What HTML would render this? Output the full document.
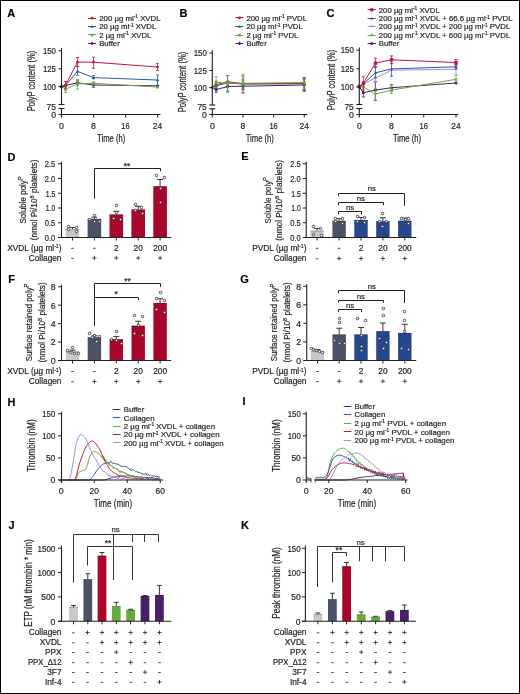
<!DOCTYPE html>
<html><head><meta charset="utf-8"><style>html,body{margin:0;padding:0;background:#fff;}svg{display:block;will-change:transform;}text{font-family:"Liberation Sans",sans-serif;stroke:#231f20;stroke-width:0.2px;}</style></head><body>
<svg width="520" height="694" viewBox="0 0 520 694">
<rect x="0" y="0" width="520" height="694" fill="#fff"/>
<text x="7.3" y="16.9" font-size="11" font-weight="bold" fill="#000">A</text>
<path d="M77.5,80.8V85M75.9,80.8H79.1M75.9,85H79.1" stroke="#4b1d6b" stroke-width="0.8" fill="none"/>
<path d="M93.5,82.6V87.2M91.9,82.6H95.1M91.9,87.2H95.1" stroke="#4b1d6b" stroke-width="0.8" fill="none"/>
<polyline points="61.5,86.6 65.5,85.5 77.5,82.8 93.5,85 157.5,85.8" fill="none" stroke="#4b1d6b" stroke-width="1.0" stroke-linejoin="round"/>
<path d="M61.5,84.6L63.5,86.6L61.5,88.6L59.5,86.6Z" fill="#4b1d6b"/>
<path d="M65.5,83.5L67.5,85.5L65.5,87.5L63.5,85.5Z" fill="#4b1d6b"/>
<path d="M77.5,80.8L79.5,82.8L77.5,84.8L75.5,82.8Z" fill="#4b1d6b"/>
<path d="M93.5,83L95.5,85L93.5,87L91.5,85Z" fill="#4b1d6b"/>
<path d="M157.5,83.8L159.5,85.8L157.5,87.8L155.5,85.8Z" fill="#4b1d6b"/>
<path d="M65.5,86.5V92.4M63.9,86.5H67.1M63.9,92.4H67.1" stroke="#64ad3d" stroke-width="0.8" fill="none"/>
<path d="M77.5,79.5V89.2M75.9,79.5H79.1M75.9,89.2H79.1" stroke="#64ad3d" stroke-width="0.8" fill="none"/>
<path d="M93.5,82V85M91.9,82H95.1M91.9,85H95.1" stroke="#64ad3d" stroke-width="0.8" fill="none"/>
<polyline points="61.5,86.6 65.5,89.2 77.5,83.9 93.5,83.3 157.5,87" fill="none" stroke="#64ad3d" stroke-width="1.0" stroke-linejoin="round"/>
<rect x="60.06" y="85.16" width="2.88" height="2.88" fill="#64ad3d"/>
<rect x="64.06" y="87.76" width="2.88" height="2.88" fill="#64ad3d"/>
<rect x="76.06" y="82.46" width="2.88" height="2.88" fill="#64ad3d"/>
<rect x="92.06" y="81.86" width="2.88" height="2.88" fill="#64ad3d"/>
<rect x="156.06" y="85.56" width="2.88" height="2.88" fill="#64ad3d"/>
<path d="M77.5,66.5V75.4M75.9,66.5H79.1M75.9,75.4H79.1" stroke="#2d5a9c" stroke-width="0.8" fill="none"/>
<path d="M93.5,75.6V78.8M91.9,75.6H95.1M91.9,78.8H95.1" stroke="#2d5a9c" stroke-width="0.8" fill="none"/>
<path d="M157.5,75V85.6M155.9,75H159.1M155.9,85.6H159.1" stroke="#2d5a9c" stroke-width="0.8" fill="none"/>
<polyline points="61.5,86.6 65.5,85.6 77.5,71.3 93.5,77.6 157.5,80" fill="none" stroke="#2d5a9c" stroke-width="1.0" stroke-linejoin="round"/>
<path d="M61.5,84.89L63.21,87.97L59.79,87.97Z" fill="#2d5a9c"/>
<path d="M65.5,83.89L67.21,86.97L63.79,86.97Z" fill="#2d5a9c"/>
<path d="M77.5,69.59L79.21,72.67L75.79,72.67Z" fill="#2d5a9c"/>
<path d="M93.5,75.89L95.21,78.97L91.79,78.97Z" fill="#2d5a9c"/>
<path d="M157.5,78.29L159.21,81.37L155.79,81.37Z" fill="#2d5a9c"/>
<path d="M65.5,81.5V88M63.9,81.5H67.1M63.9,88H67.1" stroke="#c0163c" stroke-width="0.8" fill="none"/>
<path d="M77.5,57.5V66.5M75.9,57.5H79.1M75.9,66.5H79.1" stroke="#c0163c" stroke-width="0.8" fill="none"/>
<path d="M93.5,57.2V68.3M91.9,57.2H95.1M91.9,68.3H95.1" stroke="#c0163c" stroke-width="0.8" fill="none"/>
<path d="M157.5,63.6V70.4M155.9,63.6H159.1M155.9,70.4H159.1" stroke="#c0163c" stroke-width="0.8" fill="none"/>
<polyline points="61.5,86.6 65.5,85.1 77.5,62.1 93.5,62.2 157.5,67" fill="none" stroke="#c0163c" stroke-width="1.0" stroke-linejoin="round"/>
<circle cx="61.5" cy="86.6" r="1.35" fill="#c0163c"/>
<circle cx="65.5" cy="85.1" r="1.35" fill="#c0163c"/>
<circle cx="77.5" cy="62.1" r="1.35" fill="#c0163c"/>
<circle cx="93.5" cy="62.2" r="1.35" fill="#c0163c"/>
<circle cx="157.5" cy="67" r="1.35" fill="#c0163c"/>
<line x1="61.5" y1="47.9" x2="61.5" y2="104.5" stroke="#231f20" stroke-width="1.1"/>
<line x1="61.5" y1="108.5" x2="61.5" y2="117.5" stroke="#231f20" stroke-width="1.1"/>
<line x1="58.5" y1="50.7" x2="61.5" y2="50.7" stroke="#231f20" stroke-width="1.0"/>
<line x1="58.5" y1="68.8" x2="61.5" y2="68.8" stroke="#231f20" stroke-width="1.0"/>
<line x1="58.5" y1="86.6" x2="61.5" y2="86.6" stroke="#231f20" stroke-width="1.0"/>
<line x1="58.5" y1="104.5" x2="64.5" y2="104.5" stroke="#231f20" stroke-width="1.1"/>
<line x1="58.5" y1="108.5" x2="64.5" y2="108.5" stroke="#231f20" stroke-width="1.1"/>
<line x1="58.5" y1="114.5" x2="160.5" y2="114.5" stroke="#231f20" stroke-width="1.1"/>
<line x1="93.5" y1="114.5" x2="93.5" y2="117.5" stroke="#231f20" stroke-width="1.0"/>
<line x1="125.5" y1="114.5" x2="125.5" y2="117.5" stroke="#231f20" stroke-width="1.0"/>
<line x1="157.5" y1="114.5" x2="157.5" y2="117.5" stroke="#231f20" stroke-width="1.0"/>
<text x="56" y="53.8" font-size="8.7" text-anchor="end" textLength="13.08" lengthAdjust="spacingAndGlyphs" fill="#231f20">150</text>
<text x="56" y="71.9" font-size="8.7" text-anchor="end" textLength="13.08" lengthAdjust="spacingAndGlyphs" fill="#231f20">125</text>
<text x="56" y="89.7" font-size="8.7" text-anchor="end" textLength="13.08" lengthAdjust="spacingAndGlyphs" fill="#231f20">100</text>
<text x="56" y="109.8" font-size="8.7" text-anchor="end" textLength="9.39" lengthAdjust="spacingAndGlyphs" fill="#231f20">75</text>
<text x="56" y="117.6" font-size="8.7" text-anchor="end" fill="#231f20">0</text>
<text x="61.5" y="128.7" font-size="8.7" text-anchor="middle" fill="#231f20">0</text>
<text x="93.5" y="128.7" font-size="8.7" text-anchor="middle" fill="#231f20">8</text>
<text x="125.5" y="128.7" font-size="8.7" text-anchor="middle" textLength="8.39" lengthAdjust="spacingAndGlyphs" fill="#231f20">16</text>
<text x="157.5" y="128.7" font-size="8.7" text-anchor="middle" textLength="9.39" lengthAdjust="spacingAndGlyphs" fill="#231f20">24</text>
<text x="111.2" y="141.6" font-size="10" text-anchor="middle" textLength="28.2" lengthAdjust="spacingAndGlyphs" fill="#231f20">Time (h)</text>
<text transform="translate(35.2,81) rotate(-90)" font-size="10" text-anchor="middle" textLength="60.5" lengthAdjust="spacingAndGlyphs" fill="#231f20">PolyP content (%)</text>
<line x1="88.2" y1="18.5" x2="96" y2="18.5" stroke="#c0163c" stroke-width="1.0"/>
<circle cx="92.1" cy="18.2" r="1.35" fill="#c0163c"/>
<text x="99.2" y="21" font-size="7.8" textLength="61.4" lengthAdjust="spacingAndGlyphs" fill="#231f20">200 µg ml<tspan dy="-2.6" font-size="4.84">-1</tspan><tspan dy="2.6"> XVDL</tspan></text>
<line x1="88.2" y1="26.5" x2="96" y2="26.5" stroke="#2d5a9c" stroke-width="1.0"/>
<path d="M92.1,25.08L93.62,27.82L90.58,27.82Z" fill="#2d5a9c"/>
<text x="99.2" y="29.4" font-size="7.8" textLength="57.1" lengthAdjust="spacingAndGlyphs" fill="#231f20">20 µg ml<tspan dy="-2.6" font-size="4.84">-1</tspan><tspan dy="2.6"> XVDL</tspan></text>
<line x1="88.2" y1="34.5" x2="96" y2="34.5" stroke="#64ad3d" stroke-width="1.0"/>
<rect x="90.82" y="33.72" width="2.56" height="2.56" fill="#64ad3d"/>
<text x="99.2" y="37.8" font-size="7.8" textLength="52.2" lengthAdjust="spacingAndGlyphs" fill="#231f20">2 µg ml<tspan dy="-2.6" font-size="4.84">-1</tspan><tspan dy="2.6"> XVDL</tspan></text>
<line x1="88.2" y1="43.5" x2="96" y2="43.5" stroke="#4b1d6b" stroke-width="1.0"/>
<path d="M92.1,41.6L93.9,43.4L92.1,45.2L90.3,43.4Z" fill="#4b1d6b"/>
<text x="99.2" y="46.2" font-size="7.8" textLength="20.6" lengthAdjust="spacingAndGlyphs" fill="#231f20">Buffer</text>
<text x="179.6" y="17" font-size="11" font-weight="bold" fill="#000">B</text>
<path d="M216.13,86.5V92.2M214.53,86.5H217.73M214.53,92.2H217.73" stroke="#4b1d6b" stroke-width="0.8" fill="none"/>
<path d="M227.62,82.5V91.4M226.02,82.5H229.22M226.02,91.4H229.22" stroke="#4b1d6b" stroke-width="0.8" fill="none"/>
<path d="M242.94,83V89.4M241.34,83H244.54M241.34,89.4H244.54" stroke="#4b1d6b" stroke-width="0.8" fill="none"/>
<path d="M304.22,79V91.3M302.62,79H305.82M302.62,91.3H305.82" stroke="#4b1d6b" stroke-width="0.8" fill="none"/>
<polyline points="212.3,87.6 216.13,89.5 227.62,86.6 242.94,86.2 304.22,85" fill="none" stroke="#4b1d6b" stroke-width="1.0" stroke-linejoin="round"/>
<path d="M212.3,85.6L214.3,87.6L212.3,89.6L210.3,87.6Z" fill="#4b1d6b"/>
<path d="M216.13,87.5L218.13,89.5L216.13,91.5L214.13,89.5Z" fill="#4b1d6b"/>
<path d="M227.62,84.6L229.62,86.6L227.62,88.6L225.62,86.6Z" fill="#4b1d6b"/>
<path d="M242.94,84.2L244.94,86.2L242.94,88.2L240.94,86.2Z" fill="#4b1d6b"/>
<path d="M304.22,83L306.22,85L304.22,87L302.22,85Z" fill="#4b1d6b"/>
<path d="M227.62,75.5V92M226.02,75.5H229.22M226.02,92H229.22" stroke="#2d5a9c" stroke-width="0.8" fill="none"/>
<path d="M242.94,79.9V88M241.34,79.9H244.54M241.34,88H244.54" stroke="#2d5a9c" stroke-width="0.8" fill="none"/>
<path d="M304.22,78V90M302.62,78H305.82M302.62,90H305.82" stroke="#2d5a9c" stroke-width="0.8" fill="none"/>
<polyline points="212.3,87.6 216.13,86 227.62,82.9 242.94,84.1 304.22,83.7" fill="none" stroke="#2d5a9c" stroke-width="1.0" stroke-linejoin="round"/>
<path d="M212.3,85.89L214.01,88.97L210.59,88.97Z" fill="#2d5a9c"/>
<path d="M216.13,84.29L217.84,87.37L214.42,87.37Z" fill="#2d5a9c"/>
<path d="M227.62,81.19L229.33,84.27L225.91,84.27Z" fill="#2d5a9c"/>
<path d="M242.94,82.39L244.65,85.47L241.23,85.47Z" fill="#2d5a9c"/>
<path d="M304.22,81.99L305.93,85.07L302.51,85.07Z" fill="#2d5a9c"/>
<path d="M242.94,76V93M241.34,76H244.54M241.34,93H244.54" stroke="#c0163c" stroke-width="0.8" fill="none"/>
<path d="M304.22,77.5V90M302.62,77.5H305.82M302.62,90H305.82" stroke="#c0163c" stroke-width="0.8" fill="none"/>
<polyline points="212.3,87.6 216.13,84.7 227.62,81.7 242.94,83.7 304.22,83.5" fill="none" stroke="#c0163c" stroke-width="1.0" stroke-linejoin="round"/>
<circle cx="212.3" cy="87.6" r="1.35" fill="#c0163c"/>
<circle cx="216.13" cy="84.7" r="1.35" fill="#c0163c"/>
<circle cx="227.62" cy="81.7" r="1.35" fill="#c0163c"/>
<circle cx="242.94" cy="83.7" r="1.35" fill="#c0163c"/>
<circle cx="304.22" cy="83.5" r="1.35" fill="#c0163c"/>
<path d="M216.13,76.6V87.5M214.53,76.6H217.73M214.53,87.5H217.73" stroke="#64ad3d" stroke-width="0.8" fill="none"/>
<path d="M227.62,76V91.4M226.02,76H229.22M226.02,91.4H229.22" stroke="#64ad3d" stroke-width="0.8" fill="none"/>
<path d="M242.94,74.4V93M241.34,74.4H244.54M241.34,93H244.54" stroke="#64ad3d" stroke-width="0.8" fill="none"/>
<path d="M304.22,78V88M302.62,78H305.82M302.62,88H305.82" stroke="#64ad3d" stroke-width="0.8" fill="none"/>
<polyline points="212.3,87.6 216.13,82.1 227.62,83.3 242.94,83.3 304.22,82.5" fill="none" stroke="#64ad3d" stroke-width="1.0" stroke-linejoin="round"/>
<rect x="210.86" y="86.16" width="2.88" height="2.88" fill="#64ad3d"/>
<rect x="214.69" y="80.66" width="2.88" height="2.88" fill="#64ad3d"/>
<rect x="226.18" y="81.86" width="2.88" height="2.88" fill="#64ad3d"/>
<rect x="241.5" y="81.86" width="2.88" height="2.88" fill="#64ad3d"/>
<rect x="302.78" y="81.06" width="2.88" height="2.88" fill="#64ad3d"/>
<line x1="212.3" y1="50.2" x2="212.3" y2="105" stroke="#231f20" stroke-width="1.1"/>
<line x1="212.3" y1="108.8" x2="212.3" y2="117.5" stroke="#231f20" stroke-width="1.1"/>
<line x1="209.3" y1="53" x2="212.3" y2="53" stroke="#231f20" stroke-width="1.0"/>
<line x1="209.3" y1="70.5" x2="212.3" y2="70.5" stroke="#231f20" stroke-width="1.0"/>
<line x1="209.3" y1="87.6" x2="212.3" y2="87.6" stroke="#231f20" stroke-width="1.0"/>
<line x1="209.3" y1="105" x2="215.3" y2="105" stroke="#231f20" stroke-width="1.1"/>
<line x1="209.3" y1="108.8" x2="215.3" y2="108.8" stroke="#231f20" stroke-width="1.1"/>
<line x1="209.3" y1="114.5" x2="307.5" y2="114.5" stroke="#231f20" stroke-width="1.1"/>
<line x1="242.94" y1="114.5" x2="242.94" y2="117.5" stroke="#231f20" stroke-width="1.0"/>
<line x1="273.58" y1="114.5" x2="273.58" y2="117.5" stroke="#231f20" stroke-width="1.0"/>
<line x1="304.22" y1="114.5" x2="304.22" y2="117.5" stroke="#231f20" stroke-width="1.0"/>
<text x="206.8" y="56.1" font-size="8.7" text-anchor="end" textLength="13.08" lengthAdjust="spacingAndGlyphs" fill="#231f20">150</text>
<text x="206.8" y="73.6" font-size="8.7" text-anchor="end" textLength="13.08" lengthAdjust="spacingAndGlyphs" fill="#231f20">125</text>
<text x="206.8" y="90.7" font-size="8.7" text-anchor="end" textLength="13.08" lengthAdjust="spacingAndGlyphs" fill="#231f20">100</text>
<text x="206.8" y="110.3" font-size="8.7" text-anchor="end" textLength="9.39" lengthAdjust="spacingAndGlyphs" fill="#231f20">75</text>
<text x="206.8" y="117.6" font-size="8.7" text-anchor="end" fill="#231f20">0</text>
<text x="212.3" y="128.7" font-size="8.7" text-anchor="middle" fill="#231f20">0</text>
<text x="242.94" y="128.7" font-size="8.7" text-anchor="middle" fill="#231f20">8</text>
<text x="273.58" y="128.7" font-size="8.7" text-anchor="middle" textLength="8.39" lengthAdjust="spacingAndGlyphs" fill="#231f20">16</text>
<text x="304.22" y="128.7" font-size="8.7" text-anchor="middle" textLength="9.39" lengthAdjust="spacingAndGlyphs" fill="#231f20">24</text>
<text x="259.8" y="141.6" font-size="10" text-anchor="middle" textLength="28.2" lengthAdjust="spacingAndGlyphs" fill="#231f20">Time (h)</text>
<text transform="translate(186.2,82) rotate(-90)" font-size="10" text-anchor="middle" textLength="60.5" lengthAdjust="spacingAndGlyphs" fill="#231f20">PolyP content (%)</text>
<line x1="235.5" y1="17.5" x2="243.5" y2="17.5" stroke="#c0163c" stroke-width="1.0"/>
<circle cx="239.5" cy="17.9" r="1.35" fill="#c0163c"/>
<text x="246.4" y="20.7" font-size="7.8" textLength="60.6" lengthAdjust="spacingAndGlyphs" fill="#231f20">200 µg ml<tspan dy="-2.6" font-size="4.84">-1</tspan><tspan dy="2.6"> PVDL</tspan></text>
<line x1="235.5" y1="26.5" x2="243.5" y2="26.5" stroke="#2d5a9c" stroke-width="1.0"/>
<path d="M239.5,25.08L241.02,27.82L237.98,27.82Z" fill="#2d5a9c"/>
<text x="246.4" y="29.4" font-size="7.8" textLength="56.3" lengthAdjust="spacingAndGlyphs" fill="#231f20">20 µg ml<tspan dy="-2.6" font-size="4.84">-1</tspan><tspan dy="2.6"> PVDL</tspan></text>
<line x1="235.5" y1="35.5" x2="243.5" y2="35.5" stroke="#64ad3d" stroke-width="1.0"/>
<rect x="238.22" y="33.92" width="2.56" height="2.56" fill="#64ad3d"/>
<text x="246.4" y="38" font-size="7.8" textLength="51.9" lengthAdjust="spacingAndGlyphs" fill="#231f20">2 µg ml<tspan dy="-2.6" font-size="4.84">-1</tspan><tspan dy="2.6"> PVDL</tspan></text>
<line x1="235.5" y1="43.5" x2="243.5" y2="43.5" stroke="#4b1d6b" stroke-width="1.0"/>
<path d="M239.5,41.6L241.3,43.4L239.5,45.2L237.7,43.4Z" fill="#4b1d6b"/>
<text x="246.4" y="46.2" font-size="7.8" textLength="20.3" lengthAdjust="spacingAndGlyphs" fill="#231f20">Buffer</text>
<text x="326.4" y="17.3" font-size="11" font-weight="bold" fill="#000">C</text>
<path d="M363.33,86V97M361.73,86H364.93M361.73,97H364.93" stroke="#4b1d6b" stroke-width="0.8" fill="none"/>
<path d="M375.42,81.4V100.5M373.82,81.4H377.02M373.82,100.5H377.02" stroke="#4b1d6b" stroke-width="0.8" fill="none"/>
<path d="M391.54,84.5V91M389.94,84.5H393.14M389.94,91H393.14" stroke="#4b1d6b" stroke-width="0.8" fill="none"/>
<polyline points="359.3,86.8 363.33,92.7 375.42,90.1 391.54,87.7 456.02,83" fill="none" stroke="#4b1d6b" stroke-width="1.0" stroke-linejoin="round"/>
<circle cx="359.3" cy="86.8" r="1.5" fill="#4b1d6b"/>
<circle cx="363.33" cy="92.7" r="1.5" fill="#4b1d6b"/>
<circle cx="375.42" cy="90.1" r="1.5" fill="#4b1d6b"/>
<circle cx="391.54" cy="87.7" r="1.5" fill="#4b1d6b"/>
<circle cx="456.02" cy="83" r="1.5" fill="#4b1d6b"/>
<path d="M375.42,88.3V100M373.82,88.3H377.02M373.82,100H377.02" stroke="#64ad3d" stroke-width="0.8" fill="none"/>
<path d="M391.54,84.9V93.4M389.94,84.9H393.14M389.94,93.4H393.14" stroke="#64ad3d" stroke-width="0.8" fill="none"/>
<path d="M456.02,75V81M454.42,75H457.62M454.42,81H457.62" stroke="#64ad3d" stroke-width="0.8" fill="none"/>
<polyline points="359.3,86.8 363.33,87 375.42,94 391.54,90.1 456.02,79.3" fill="none" stroke="#64ad3d" stroke-width="1.0" stroke-linejoin="round"/>
<path d="M357.94,86.8H360.66M359.3,85.44V88.16" stroke="#64ad3d" stroke-width="1.1"/>
<path d="M361.97,87H364.69M363.33,85.64V88.36" stroke="#64ad3d" stroke-width="1.1"/>
<path d="M374.06,94H376.78M375.42,92.64V95.36" stroke="#64ad3d" stroke-width="1.1"/>
<path d="M390.18,90.1H392.9M391.54,88.74V91.46" stroke="#64ad3d" stroke-width="1.1"/>
<path d="M454.66,79.3H457.38M456.02,77.94V80.66" stroke="#64ad3d" stroke-width="1.1"/>
<path d="M375.42,67.1V82.3M373.82,67.1H377.02M373.82,82.3H377.02" stroke="#9c92d8" stroke-width="0.8" fill="none"/>
<path d="M456.02,63.8V75M454.42,63.8H457.62M454.42,75H457.62" stroke="#9c92d8" stroke-width="0.8" fill="none"/>
<polyline points="359.3,86.8 363.33,84.2 375.42,78 391.54,70.2 456.02,69.3" fill="none" stroke="#9c92d8" stroke-width="1.0" stroke-linejoin="round"/>
<path d="M359.3,88.32L360.82,85.58L357.78,85.58Z" fill="#9c92d8"/>
<path d="M363.33,85.72L364.85,82.98L361.81,82.98Z" fill="#9c92d8"/>
<path d="M375.42,79.52L376.94,76.78L373.9,76.78Z" fill="#9c92d8"/>
<path d="M391.54,71.72L393.06,68.98L390.02,68.98Z" fill="#9c92d8"/>
<path d="M456.02,70.82L457.54,68.08L454.5,68.08Z" fill="#9c92d8"/>
<path d="M375.42,66.7V78M373.82,66.7H377.02M373.82,78H377.02" stroke="#2d5a9c" stroke-width="0.8" fill="none"/>
<path d="M391.54,63.2V76.2M389.94,63.2H393.14M389.94,76.2H393.14" stroke="#2d5a9c" stroke-width="0.8" fill="none"/>
<path d="M456.02,64.5V69M454.42,64.5H457.62M454.42,69H457.62" stroke="#2d5a9c" stroke-width="0.8" fill="none"/>
<polyline points="359.3,86.8 363.33,83.8 375.42,72.8 391.54,68.9 456.02,66.8" fill="none" stroke="#2d5a9c" stroke-width="1.0" stroke-linejoin="round"/>
<path d="M359.3,85.28L360.82,88.02L357.78,88.02Z" fill="#2d5a9c"/>
<path d="M363.33,82.28L364.85,85.02L361.81,85.02Z" fill="#2d5a9c"/>
<path d="M375.42,71.28L376.94,74.02L373.9,74.02Z" fill="#2d5a9c"/>
<path d="M391.54,67.38L393.06,70.12L390.02,70.12Z" fill="#2d5a9c"/>
<path d="M456.02,65.28L457.54,68.02L454.5,68.02Z" fill="#2d5a9c"/>
<path d="M363.33,76.7V90.1M361.73,76.7H364.93M361.73,90.1H364.93" stroke="#c0163c" stroke-width="0.8" fill="none"/>
<path d="M375.42,58.2V67.6M373.82,58.2H377.02M373.82,67.6H377.02" stroke="#c0163c" stroke-width="0.8" fill="none"/>
<path d="M391.54,55.9V63.7M389.94,55.9H393.14M389.94,63.7H393.14" stroke="#c0163c" stroke-width="0.8" fill="none"/>
<path d="M456.02,59.5V65M454.42,59.5H457.62M454.42,65H457.62" stroke="#c0163c" stroke-width="0.8" fill="none"/>
<polyline points="359.3,86.6 363.33,83.2 375.42,63.1 391.54,59.8 456.02,62.5" fill="none" stroke="#c0163c" stroke-width="1.0" stroke-linejoin="round"/>
<rect x="357.62" y="84.92" width="3.36" height="3.36" fill="#c0163c"/>
<rect x="361.65" y="81.52" width="3.36" height="3.36" fill="#c0163c"/>
<rect x="373.74" y="61.42" width="3.36" height="3.36" fill="#c0163c"/>
<rect x="389.86" y="58.12" width="3.36" height="3.36" fill="#c0163c"/>
<rect x="454.34" y="60.82" width="3.36" height="3.36" fill="#c0163c"/>
<line x1="359.3" y1="47.4" x2="359.3" y2="104.5" stroke="#231f20" stroke-width="1.1"/>
<line x1="359.3" y1="108.5" x2="359.3" y2="117.5" stroke="#231f20" stroke-width="1.1"/>
<line x1="356.3" y1="50.2" x2="359.3" y2="50.2" stroke="#231f20" stroke-width="1.0"/>
<line x1="356.3" y1="68.9" x2="359.3" y2="68.9" stroke="#231f20" stroke-width="1.0"/>
<line x1="356.3" y1="87" x2="359.3" y2="87" stroke="#231f20" stroke-width="1.0"/>
<line x1="356.3" y1="104.5" x2="362.3" y2="104.5" stroke="#231f20" stroke-width="1.1"/>
<line x1="356.3" y1="108.5" x2="362.3" y2="108.5" stroke="#231f20" stroke-width="1.1"/>
<line x1="356.3" y1="114.5" x2="458.5" y2="114.5" stroke="#231f20" stroke-width="1.1"/>
<line x1="391.54" y1="114.5" x2="391.54" y2="117.5" stroke="#231f20" stroke-width="1.0"/>
<line x1="423.78" y1="114.5" x2="423.78" y2="117.5" stroke="#231f20" stroke-width="1.0"/>
<line x1="456.02" y1="114.5" x2="456.02" y2="117.5" stroke="#231f20" stroke-width="1.0"/>
<text x="353.8" y="53.3" font-size="8.7" text-anchor="end" textLength="13.08" lengthAdjust="spacingAndGlyphs" fill="#231f20">150</text>
<text x="353.8" y="72" font-size="8.7" text-anchor="end" textLength="13.08" lengthAdjust="spacingAndGlyphs" fill="#231f20">125</text>
<text x="353.8" y="90.1" font-size="8.7" text-anchor="end" textLength="13.08" lengthAdjust="spacingAndGlyphs" fill="#231f20">100</text>
<text x="353.8" y="109.8" font-size="8.7" text-anchor="end" textLength="9.39" lengthAdjust="spacingAndGlyphs" fill="#231f20">75</text>
<text x="353.8" y="117.6" font-size="8.7" text-anchor="end" fill="#231f20">0</text>
<text x="359.3" y="128.7" font-size="8.7" text-anchor="middle" fill="#231f20">0</text>
<text x="391.54" y="128.7" font-size="8.7" text-anchor="middle" fill="#231f20">8</text>
<text x="423.78" y="128.7" font-size="8.7" text-anchor="middle" textLength="8.39" lengthAdjust="spacingAndGlyphs" fill="#231f20">16</text>
<text x="456.02" y="128.7" font-size="8.7" text-anchor="middle" textLength="9.39" lengthAdjust="spacingAndGlyphs" fill="#231f20">24</text>
<text x="407" y="141.6" font-size="10" text-anchor="middle" textLength="28.2" lengthAdjust="spacingAndGlyphs" fill="#231f20">Time (h)</text>
<text transform="translate(334.8,80) rotate(-90)" font-size="10" text-anchor="middle" textLength="60.5" lengthAdjust="spacingAndGlyphs" fill="#231f20">PolyP content (%)</text>
<line x1="367.6" y1="9.5" x2="375.8" y2="9.5" stroke="#c0163c" stroke-width="1.0"/>
<rect x="370.1" y="8.2" width="3.2" height="3.2" fill="#c0163c"/>
<text x="378.8" y="12.6" font-size="7.8" textLength="60.9" lengthAdjust="spacingAndGlyphs" fill="#231f20">200 µg ml<tspan dy="-2.6" font-size="4.84">-1</tspan><tspan dy="2.6"> XVDL</tspan></text>
<line x1="367.6" y1="18.5" x2="375.8" y2="18.5" stroke="#2d5a9c" stroke-width="1.0"/>
<path d="M371.7,16.78L373.22,19.52L370.18,19.52Z" fill="#2d5a9c"/>
<text x="378.8" y="21.1" font-size="7.8" textLength="133.8" lengthAdjust="spacingAndGlyphs" fill="#231f20">200 µg ml<tspan dy="-2.6" font-size="4.84">-1</tspan><tspan dy="2.6"> XVDL + 66.6 µg ml<tspan dy="-2.6" font-size="4.84">-1</tspan><tspan dy="2.6"> PVDL</tspan></tspan></text>
<line x1="367.6" y1="26.5" x2="375.8" y2="26.5" stroke="#9c92d8" stroke-width="1.0"/>
<path d="M371.7,28.12L373.22,25.38L370.18,25.38Z" fill="#9c92d8"/>
<text x="378.8" y="29.4" font-size="7.8" textLength="131.5" lengthAdjust="spacingAndGlyphs" fill="#231f20">200 µg ml<tspan dy="-2.6" font-size="4.84">-1</tspan><tspan dy="2.6"> XVDL + 200 µg ml<tspan dy="-2.6" font-size="4.84">-1</tspan><tspan dy="2.6"> PVDL</tspan></tspan></text>
<line x1="367.6" y1="35.5" x2="375.8" y2="35.5" stroke="#64ad3d" stroke-width="1.0"/>
<path d="M370.34,35.1H373.06M371.7,33.74V36.46" stroke="#64ad3d" stroke-width="1.1"/>
<text x="378.8" y="37.9" font-size="7.8" textLength="131.5" lengthAdjust="spacingAndGlyphs" fill="#231f20">200 µg ml<tspan dy="-2.6" font-size="4.84">-1</tspan><tspan dy="2.6"> XVDL + 600 µg ml<tspan dy="-2.6" font-size="4.84">-1</tspan><tspan dy="2.6"> PVDL</tspan></tspan></text>
<line x1="367.6" y1="43.5" x2="375.8" y2="43.5" stroke="#4b1d6b" stroke-width="1.0"/>
<circle cx="371.7" cy="43.6" r="1.5" fill="#4b1d6b"/>
<text x="378.8" y="46.4" font-size="7.8" textLength="20.5" lengthAdjust="spacingAndGlyphs" fill="#231f20">Buffer</text>
<text x="7.5" y="160.5" font-size="11" font-weight="bold" fill="#000">D</text>
<line x1="72.5" y1="229.3" x2="72.5" y2="227.6" stroke="#231f20" stroke-width="0.9"/>
<line x1="69.5" y1="227.6" x2="75.5" y2="227.6" stroke="#231f20" stroke-width="0.9"/>
<rect x="65.7" y="229.3" width="13.6" height="8.2" fill="#c8c8cc"/>
<line x1="65.7" y1="229.6" x2="79.3" y2="229.6" stroke="#231f20" stroke-width="0.6" stroke-opacity="0.5"/>
<line x1="94.4" y1="218.9" x2="94.4" y2="217.2" stroke="#231f20" stroke-width="0.9"/>
<line x1="91.4" y1="217.2" x2="97.4" y2="217.2" stroke="#231f20" stroke-width="0.9"/>
<rect x="87.6" y="218.9" width="13.6" height="18.6" fill="#4b5166"/>
<line x1="87.6" y1="219.2" x2="101.2" y2="219.2" stroke="#231f20" stroke-width="0.6" stroke-opacity="0.5"/>
<line x1="116.3" y1="214.5" x2="116.3" y2="211.25" stroke="#231f20" stroke-width="0.9"/>
<line x1="113.3" y1="211.25" x2="119.3" y2="211.25" stroke="#231f20" stroke-width="0.9"/>
<rect x="109.5" y="214.5" width="13.6" height="23" fill="#a8062a"/>
<line x1="109.5" y1="214.8" x2="123.1" y2="214.8" stroke="#231f20" stroke-width="0.6" stroke-opacity="0.5"/>
<line x1="138.2" y1="209.5" x2="138.2" y2="206.25" stroke="#231f20" stroke-width="0.9"/>
<line x1="135.2" y1="206.25" x2="141.2" y2="206.25" stroke="#231f20" stroke-width="0.9"/>
<rect x="131.4" y="209.5" width="13.6" height="28" fill="#a8062a"/>
<line x1="131.4" y1="209.8" x2="145" y2="209.8" stroke="#231f20" stroke-width="0.6" stroke-opacity="0.5"/>
<line x1="160.1" y1="186.25" x2="160.1" y2="179.5" stroke="#231f20" stroke-width="0.9"/>
<line x1="157.1" y1="179.5" x2="163.1" y2="179.5" stroke="#231f20" stroke-width="0.9"/>
<rect x="153.3" y="186.25" width="13.6" height="51.25" fill="#a8062a"/>
<line x1="153.3" y1="186.55" x2="166.9" y2="186.55" stroke="#231f20" stroke-width="0.6" stroke-opacity="0.5"/>
<circle cx="68.5" cy="226.5" r="1.25" fill="#fff" stroke="#231f20" stroke-width="0.8"/>
<circle cx="68.5" cy="229.5" r="1.25" fill="#fff" stroke="#231f20" stroke-width="0.8"/>
<circle cx="76.5" cy="227.5" r="1.25" fill="#fff" stroke="#231f20" stroke-width="0.8"/>
<circle cx="76.5" cy="231.5" r="1.25" fill="#fff" stroke="#231f20" stroke-width="0.8"/>
<circle cx="89.5" cy="219.5" r="1.25" fill="#fff" stroke="#231f20" stroke-width="0.8"/>
<circle cx="94.5" cy="221.5" r="1.25" fill="#fff" stroke="#231f20" stroke-width="0.8"/>
<circle cx="99.5" cy="221.5" r="1.25" fill="#fff" stroke="#231f20" stroke-width="0.8"/>
<circle cx="94.5" cy="215.5" r="1.25" fill="#fff" stroke="#231f20" stroke-width="0.8"/>
<circle cx="116.5" cy="205.5" r="1.25" fill="#fff" stroke="#231f20" stroke-width="0.8"/>
<circle cx="116.5" cy="212.5" r="1.25" fill="#fff" stroke="#231f20" stroke-width="0.8"/>
<circle cx="113.5" cy="218.5" r="1.25" fill="#fff" stroke="#231f20" stroke-width="0.8"/>
<circle cx="120.5" cy="219.5" r="1.25" fill="#fff" stroke="#231f20" stroke-width="0.8"/>
<circle cx="135.5" cy="204.5" r="1.25" fill="#fff" stroke="#231f20" stroke-width="0.8"/>
<circle cx="141.5" cy="207.5" r="1.25" fill="#fff" stroke="#231f20" stroke-width="0.8"/>
<circle cx="135.5" cy="210.5" r="1.25" fill="#fff" stroke="#231f20" stroke-width="0.8"/>
<circle cx="142.5" cy="213.5" r="1.25" fill="#fff" stroke="#231f20" stroke-width="0.8"/>
<circle cx="156.5" cy="175.5" r="1.25" fill="#fff" stroke="#231f20" stroke-width="0.8"/>
<circle cx="164.5" cy="177.5" r="1.25" fill="#fff" stroke="#231f20" stroke-width="0.8"/>
<circle cx="160.5" cy="188.5" r="1.25" fill="#fff" stroke="#231f20" stroke-width="0.8"/>
<circle cx="160.5" cy="202.5" r="1.25" fill="#fff" stroke="#231f20" stroke-width="0.8"/>
<path d="M94.5,198.75V168.5H160.5V171.25" stroke="#231f20" stroke-width="1.0" fill="none"/>
<text x="127" y="168.8" font-size="8.5" text-anchor="middle" fill="#231f20">**</text>
<line x1="61.5" y1="161.75" x2="61.5" y2="237.5" stroke="#231f20" stroke-width="1.1"/>
<line x1="58" y1="237.5" x2="61.5" y2="237.5" stroke="#231f20" stroke-width="1.0"/>
<text x="55.3" y="240.9" font-size="8.7" text-anchor="end" textLength="10.43" lengthAdjust="spacingAndGlyphs" fill="#231f20">0.0</text>
<line x1="58" y1="222.75" x2="61.5" y2="222.75" stroke="#231f20" stroke-width="1.0"/>
<text x="55.3" y="226.15" font-size="8.7" text-anchor="end" textLength="10.43" lengthAdjust="spacingAndGlyphs" fill="#231f20">0.5</text>
<line x1="58" y1="208" x2="61.5" y2="208" stroke="#231f20" stroke-width="1.0"/>
<text x="55.3" y="211.4" font-size="8.7" text-anchor="end" textLength="9.43" lengthAdjust="spacingAndGlyphs" fill="#231f20">1.0</text>
<line x1="58" y1="193.25" x2="61.5" y2="193.25" stroke="#231f20" stroke-width="1.0"/>
<text x="55.3" y="196.65" font-size="8.7" text-anchor="end" textLength="9.43" lengthAdjust="spacingAndGlyphs" fill="#231f20">1.5</text>
<line x1="58" y1="178.5" x2="61.5" y2="178.5" stroke="#231f20" stroke-width="1.0"/>
<text x="55.3" y="181.9" font-size="8.7" text-anchor="end" textLength="10.43" lengthAdjust="spacingAndGlyphs" fill="#231f20">2.0</text>
<line x1="58" y1="163.75" x2="61.5" y2="163.75" stroke="#231f20" stroke-width="1.0"/>
<text x="55.3" y="167.15" font-size="8.7" text-anchor="end" textLength="10.43" lengthAdjust="spacingAndGlyphs" fill="#231f20">2.5</text>
<line x1="58.5" y1="237.5" x2="171.25" y2="237.5" stroke="#231f20" stroke-width="1.1"/>
<line x1="72.5" y1="237.5" x2="72.5" y2="240.5" stroke="#231f20" stroke-width="1.0"/>
<line x1="94.4" y1="237.5" x2="94.4" y2="240.5" stroke="#231f20" stroke-width="1.0"/>
<line x1="116.3" y1="237.5" x2="116.3" y2="240.5" stroke="#231f20" stroke-width="1.0"/>
<line x1="138.2" y1="237.5" x2="138.2" y2="240.5" stroke="#231f20" stroke-width="1.0"/>
<line x1="160.1" y1="237.5" x2="160.1" y2="240.5" stroke="#231f20" stroke-width="1.0"/>
<text transform="translate(25.6,199.9) rotate(-90)" font-size="9.2" text-anchor="middle" textLength="47.4" lengthAdjust="spacingAndGlyphs" fill="#231f20">Soluble poly<tspan dy="-2.6" font-size="6.8">P</tspan></text>
<text transform="translate(37.2,199.9) rotate(-90)" font-size="9.2" text-anchor="middle" textLength="80.6" lengthAdjust="spacingAndGlyphs" fill="#231f20">(nmol Pi/10<tspan dy="-2.8" font-size="6.2">8</tspan><tspan dy="2.8"> platelets)</tspan></text>
<text x="61.5" y="250.9" font-size="8.3" text-anchor="end" fill="#231f20">XVDL (µg ml<tspan dy="-2.6" font-size="5.15">-1</tspan><tspan dy="2.6">)</tspan></text>
<line x1="71.2" y1="248.3" x2="73.8" y2="248.3" stroke="#231f20" stroke-width="0.8"/>
<line x1="93.1" y1="248.3" x2="95.7" y2="248.3" stroke="#231f20" stroke-width="0.8"/>
<text x="116.3" y="250.9" font-size="8.3" text-anchor="middle" fill="#231f20">2</text>
<text x="138.2" y="250.9" font-size="8.3" text-anchor="middle" fill="#231f20">20</text>
<text x="160.1" y="250.9" font-size="8.3" text-anchor="middle" fill="#231f20">200</text>
<text x="61.5" y="260.9" font-size="8.3" text-anchor="end" fill="#231f20">Collagen</text>
<line x1="71.2" y1="258.3" x2="73.8" y2="258.3" stroke="#231f20" stroke-width="0.8"/>
<path d="M92.3,258H96.5M94.4,255.9V260.1" stroke="#231f20" stroke-width="0.8"/>
<path d="M114.2,258H118.4M116.3,255.9V260.1" stroke="#231f20" stroke-width="0.8"/>
<path d="M136.1,258H140.3M138.2,255.9V260.1" stroke="#231f20" stroke-width="0.8"/>
<path d="M158,258H162.2M160.1,255.9V260.1" stroke="#231f20" stroke-width="0.8"/>
<text x="241.2" y="160.2" font-size="11" font-weight="bold" fill="#000">E</text>
<line x1="317.1" y1="230.8" x2="317.1" y2="228.4" stroke="#231f20" stroke-width="0.9"/>
<line x1="314.1" y1="228.4" x2="320.1" y2="228.4" stroke="#231f20" stroke-width="0.9"/>
<rect x="310.4" y="230.8" width="13.4" height="6.7" fill="#c8c8cc"/>
<line x1="310.4" y1="231.1" x2="323.8" y2="231.1" stroke="#231f20" stroke-width="0.6" stroke-opacity="0.5"/>
<line x1="339.1" y1="220.8" x2="339.1" y2="218.7" stroke="#231f20" stroke-width="0.9"/>
<line x1="336.1" y1="218.7" x2="342.1" y2="218.7" stroke="#231f20" stroke-width="0.9"/>
<rect x="332.4" y="220.8" width="13.4" height="16.7" fill="#4b5166"/>
<line x1="332.4" y1="221.1" x2="345.8" y2="221.1" stroke="#231f20" stroke-width="0.6" stroke-opacity="0.5"/>
<line x1="361" y1="220" x2="361" y2="217.5" stroke="#231f20" stroke-width="0.9"/>
<line x1="358" y1="217.5" x2="364" y2="217.5" stroke="#231f20" stroke-width="0.9"/>
<rect x="354.3" y="220" width="13.4" height="17.5" fill="#25478c"/>
<line x1="354.3" y1="220.3" x2="367.7" y2="220.3" stroke="#231f20" stroke-width="0.6" stroke-opacity="0.5"/>
<line x1="382.9" y1="221.25" x2="382.9" y2="217.75" stroke="#231f20" stroke-width="0.9"/>
<line x1="379.9" y1="217.75" x2="385.9" y2="217.75" stroke="#231f20" stroke-width="0.9"/>
<rect x="376.2" y="221.25" width="13.4" height="16.25" fill="#25478c"/>
<line x1="376.2" y1="221.55" x2="389.6" y2="221.55" stroke="#231f20" stroke-width="0.6" stroke-opacity="0.5"/>
<line x1="404.8" y1="220.75" x2="404.8" y2="218" stroke="#231f20" stroke-width="0.9"/>
<line x1="401.8" y1="218" x2="407.8" y2="218" stroke="#231f20" stroke-width="0.9"/>
<rect x="398.1" y="220.75" width="13.4" height="16.75" fill="#25478c"/>
<line x1="398.1" y1="221.05" x2="411.5" y2="221.05" stroke="#231f20" stroke-width="0.6" stroke-opacity="0.5"/>
<circle cx="313.5" cy="226.5" r="1.25" fill="#fff" stroke="#231f20" stroke-width="0.8"/>
<circle cx="320.5" cy="228.5" r="1.25" fill="#fff" stroke="#231f20" stroke-width="0.8"/>
<circle cx="313.5" cy="234.5" r="1.25" fill="#fff" stroke="#231f20" stroke-width="0.8"/>
<circle cx="321.5" cy="235.5" r="1.25" fill="#fff" stroke="#231f20" stroke-width="0.8"/>
<circle cx="335.5" cy="218.5" r="1.25" fill="#fff" stroke="#231f20" stroke-width="0.8"/>
<circle cx="342.5" cy="218.5" r="1.25" fill="#fff" stroke="#231f20" stroke-width="0.8"/>
<circle cx="335.5" cy="221.5" r="1.25" fill="#fff" stroke="#231f20" stroke-width="0.8"/>
<circle cx="342.5" cy="223.5" r="1.25" fill="#fff" stroke="#231f20" stroke-width="0.8"/>
<circle cx="357.5" cy="216.5" r="1.25" fill="#fff" stroke="#231f20" stroke-width="0.8"/>
<circle cx="364.5" cy="217.5" r="1.25" fill="#fff" stroke="#231f20" stroke-width="0.8"/>
<circle cx="357.5" cy="221.5" r="1.25" fill="#fff" stroke="#231f20" stroke-width="0.8"/>
<circle cx="364.5" cy="222.5" r="1.25" fill="#fff" stroke="#231f20" stroke-width="0.8"/>
<circle cx="382.5" cy="213.5" r="1.25" fill="#fff" stroke="#231f20" stroke-width="0.8"/>
<circle cx="379.5" cy="221.5" r="1.25" fill="#fff" stroke="#231f20" stroke-width="0.8"/>
<circle cx="386.5" cy="221.5" r="1.25" fill="#fff" stroke="#231f20" stroke-width="0.8"/>
<circle cx="382.5" cy="226.5" r="1.25" fill="#fff" stroke="#231f20" stroke-width="0.8"/>
<circle cx="401.5" cy="218.5" r="1.25" fill="#fff" stroke="#231f20" stroke-width="0.8"/>
<circle cx="408.5" cy="218.5" r="1.25" fill="#fff" stroke="#231f20" stroke-width="0.8"/>
<circle cx="405.5" cy="219.5" r="1.25" fill="#fff" stroke="#231f20" stroke-width="0.8"/>
<circle cx="408.5" cy="223.5" r="1.25" fill="#fff" stroke="#231f20" stroke-width="0.8"/>
<path d="M338.5,214.25V211.5H361.5V214.25" stroke="#231f20" stroke-width="1.0" fill="none"/>
<path d="M338.5,205.25V202.5H383.5V205.25" stroke="#231f20" stroke-width="1.0" fill="none"/>
<path d="M338.5,195.75V193.5H404.5V205.75" stroke="#231f20" stroke-width="1.0" fill="none"/>
<text x="350" y="210.2" font-size="7.8" text-anchor="middle" fill="#231f20">ns</text>
<text x="360.75" y="201.1" font-size="7.8" text-anchor="middle" fill="#231f20">ns</text>
<text x="371.75" y="191.4" font-size="7.8" text-anchor="middle" fill="#231f20">ns</text>
<line x1="306.25" y1="161.75" x2="306.25" y2="237.5" stroke="#231f20" stroke-width="1.1"/>
<line x1="302.75" y1="237.5" x2="306.25" y2="237.5" stroke="#231f20" stroke-width="1.0"/>
<text x="300.8" y="240.9" font-size="8.7" text-anchor="end" textLength="10.43" lengthAdjust="spacingAndGlyphs" fill="#231f20">0.0</text>
<line x1="302.75" y1="222.75" x2="306.25" y2="222.75" stroke="#231f20" stroke-width="1.0"/>
<text x="300.8" y="226.15" font-size="8.7" text-anchor="end" textLength="10.43" lengthAdjust="spacingAndGlyphs" fill="#231f20">0.5</text>
<line x1="302.75" y1="208" x2="306.25" y2="208" stroke="#231f20" stroke-width="1.0"/>
<text x="300.8" y="211.4" font-size="8.7" text-anchor="end" textLength="9.43" lengthAdjust="spacingAndGlyphs" fill="#231f20">1.0</text>
<line x1="302.75" y1="193.25" x2="306.25" y2="193.25" stroke="#231f20" stroke-width="1.0"/>
<text x="300.8" y="196.65" font-size="8.7" text-anchor="end" textLength="9.43" lengthAdjust="spacingAndGlyphs" fill="#231f20">1.5</text>
<line x1="302.75" y1="178.5" x2="306.25" y2="178.5" stroke="#231f20" stroke-width="1.0"/>
<text x="300.8" y="181.9" font-size="8.7" text-anchor="end" textLength="10.43" lengthAdjust="spacingAndGlyphs" fill="#231f20">2.0</text>
<line x1="302.75" y1="163.75" x2="306.25" y2="163.75" stroke="#231f20" stroke-width="1.0"/>
<text x="300.8" y="167.15" font-size="8.7" text-anchor="end" textLength="10.43" lengthAdjust="spacingAndGlyphs" fill="#231f20">2.5</text>
<line x1="303" y1="237.5" x2="416.25" y2="237.5" stroke="#231f20" stroke-width="1.1"/>
<line x1="317.1" y1="237.5" x2="317.1" y2="240.5" stroke="#231f20" stroke-width="1.0"/>
<line x1="339.1" y1="237.5" x2="339.1" y2="240.5" stroke="#231f20" stroke-width="1.0"/>
<line x1="361" y1="237.5" x2="361" y2="240.5" stroke="#231f20" stroke-width="1.0"/>
<line x1="382.9" y1="237.5" x2="382.9" y2="240.5" stroke="#231f20" stroke-width="1.0"/>
<line x1="404.8" y1="237.5" x2="404.8" y2="240.5" stroke="#231f20" stroke-width="1.0"/>
<text transform="translate(270.6,200.3) rotate(-90)" font-size="9.2" text-anchor="middle" textLength="46.5" lengthAdjust="spacingAndGlyphs" fill="#231f20">Soluble poly<tspan dy="-2.6" font-size="6.8">P</tspan></text>
<text transform="translate(282,200.3) rotate(-90)" font-size="9.2" text-anchor="middle" textLength="80.7" lengthAdjust="spacingAndGlyphs" fill="#231f20">(nmol Pi/10<tspan dy="-2.8" font-size="6.2">8</tspan><tspan dy="2.8"> platelets)</tspan></text>
<text x="306.5" y="250.9" font-size="8.3" text-anchor="end" fill="#231f20">PVDL (µg ml<tspan dy="-2.6" font-size="5.15">-1</tspan><tspan dy="2.6">)</tspan></text>
<line x1="315.8" y1="248.3" x2="318.4" y2="248.3" stroke="#231f20" stroke-width="0.8"/>
<line x1="337.8" y1="248.3" x2="340.4" y2="248.3" stroke="#231f20" stroke-width="0.8"/>
<text x="361" y="250.9" font-size="8.3" text-anchor="middle" fill="#231f20">2</text>
<text x="382.9" y="250.9" font-size="8.3" text-anchor="middle" fill="#231f20">20</text>
<text x="404.8" y="250.9" font-size="8.3" text-anchor="middle" fill="#231f20">200</text>
<text x="306.5" y="261.4" font-size="8.3" text-anchor="end" fill="#231f20">Collagen</text>
<line x1="315.8" y1="258.8" x2="318.4" y2="258.8" stroke="#231f20" stroke-width="0.8"/>
<path d="M337,258.5H341.2M339.1,256.4V260.6" stroke="#231f20" stroke-width="0.8"/>
<path d="M358.9,258.5H363.1M361,256.4V260.6" stroke="#231f20" stroke-width="0.8"/>
<path d="M380.8,258.5H385M382.9,256.4V260.6" stroke="#231f20" stroke-width="0.8"/>
<path d="M402.7,258.5H406.9M404.8,256.4V260.6" stroke="#231f20" stroke-width="0.8"/>
<text x="8.3" y="282.6" font-size="11" font-weight="bold" fill="#000">F</text>
<line x1="72.5" y1="351.5" x2="72.5" y2="350.1" stroke="#231f20" stroke-width="0.9"/>
<line x1="69.5" y1="350.1" x2="75.5" y2="350.1" stroke="#231f20" stroke-width="0.9"/>
<rect x="65.8" y="351.5" width="13.4" height="9" fill="#c8c8cc"/>
<line x1="65.8" y1="351.8" x2="79.2" y2="351.8" stroke="#231f20" stroke-width="0.6" stroke-opacity="0.5"/>
<line x1="94.4" y1="337.3" x2="94.4" y2="335.8" stroke="#231f20" stroke-width="0.9"/>
<line x1="91.4" y1="335.8" x2="97.4" y2="335.8" stroke="#231f20" stroke-width="0.9"/>
<rect x="87.7" y="337.3" width="13.4" height="23.2" fill="#4b5166"/>
<line x1="87.7" y1="337.6" x2="101.1" y2="337.6" stroke="#231f20" stroke-width="0.6" stroke-opacity="0.5"/>
<line x1="116.3" y1="339.2" x2="116.3" y2="336.4" stroke="#231f20" stroke-width="0.9"/>
<line x1="113.3" y1="336.4" x2="119.3" y2="336.4" stroke="#231f20" stroke-width="0.9"/>
<rect x="109.6" y="339.2" width="13.4" height="21.3" fill="#a8062a"/>
<line x1="109.6" y1="339.5" x2="123" y2="339.5" stroke="#231f20" stroke-width="0.6" stroke-opacity="0.5"/>
<line x1="138.2" y1="325.75" x2="138.2" y2="321.25" stroke="#231f20" stroke-width="0.9"/>
<line x1="135.2" y1="321.25" x2="141.2" y2="321.25" stroke="#231f20" stroke-width="0.9"/>
<rect x="131.5" y="325.75" width="13.4" height="34.75" fill="#a8062a"/>
<line x1="131.5" y1="326.05" x2="144.9" y2="326.05" stroke="#231f20" stroke-width="0.6" stroke-opacity="0.5"/>
<line x1="160.1" y1="303" x2="160.1" y2="298.75" stroke="#231f20" stroke-width="0.9"/>
<line x1="157.1" y1="298.75" x2="163.1" y2="298.75" stroke="#231f20" stroke-width="0.9"/>
<rect x="153.4" y="303" width="13.4" height="57.5" fill="#a8062a"/>
<line x1="153.4" y1="303.3" x2="166.8" y2="303.3" stroke="#231f20" stroke-width="0.6" stroke-opacity="0.5"/>
<circle cx="67.5" cy="350.5" r="1.25" fill="#fff" stroke="#231f20" stroke-width="0.8"/>
<circle cx="72.5" cy="347.5" r="1.25" fill="#fff" stroke="#231f20" stroke-width="0.8"/>
<circle cx="70.5" cy="352.5" r="1.25" fill="#fff" stroke="#231f20" stroke-width="0.8"/>
<circle cx="74.5" cy="353.5" r="1.25" fill="#fff" stroke="#231f20" stroke-width="0.8"/>
<circle cx="78.5" cy="353.5" r="1.25" fill="#fff" stroke="#231f20" stroke-width="0.8"/>
<circle cx="89.5" cy="333.5" r="1.25" fill="#fff" stroke="#231f20" stroke-width="0.8"/>
<circle cx="92.5" cy="337.5" r="1.25" fill="#fff" stroke="#231f20" stroke-width="0.8"/>
<circle cx="94.5" cy="335.5" r="1.25" fill="#fff" stroke="#231f20" stroke-width="0.8"/>
<circle cx="99.5" cy="336.5" r="1.25" fill="#fff" stroke="#231f20" stroke-width="0.8"/>
<circle cx="96.5" cy="341.5" r="1.25" fill="#fff" stroke="#231f20" stroke-width="0.8"/>
<circle cx="116.5" cy="331.5" r="1.25" fill="#fff" stroke="#231f20" stroke-width="0.8"/>
<circle cx="111.5" cy="339.5" r="1.25" fill="#fff" stroke="#231f20" stroke-width="0.8"/>
<circle cx="116.5" cy="340.5" r="1.25" fill="#fff" stroke="#231f20" stroke-width="0.8"/>
<circle cx="121.5" cy="343.5" r="1.25" fill="#fff" stroke="#231f20" stroke-width="0.8"/>
<circle cx="134.5" cy="315.5" r="1.25" fill="#fff" stroke="#231f20" stroke-width="0.8"/>
<circle cx="142.5" cy="316.5" r="1.25" fill="#fff" stroke="#231f20" stroke-width="0.8"/>
<circle cx="138.5" cy="325.5" r="1.25" fill="#fff" stroke="#231f20" stroke-width="0.8"/>
<circle cx="134.5" cy="333.5" r="1.25" fill="#fff" stroke="#231f20" stroke-width="0.8"/>
<circle cx="142.5" cy="335.5" r="1.25" fill="#fff" stroke="#231f20" stroke-width="0.8"/>
<circle cx="160.5" cy="292.5" r="1.25" fill="#fff" stroke="#231f20" stroke-width="0.8"/>
<circle cx="156.5" cy="298.5" r="1.25" fill="#fff" stroke="#231f20" stroke-width="0.8"/>
<circle cx="164.5" cy="300.5" r="1.25" fill="#fff" stroke="#231f20" stroke-width="0.8"/>
<circle cx="156.5" cy="309.5" r="1.25" fill="#fff" stroke="#231f20" stroke-width="0.8"/>
<circle cx="164.5" cy="312.5" r="1.25" fill="#fff" stroke="#231f20" stroke-width="0.8"/>
<path d="M94.5,325.75V283.5H160.5V286.95" stroke="#231f20" stroke-width="1.0" fill="none"/>
<path d="M94.5,325.7V297.5H138.5V300" stroke="#231f20" stroke-width="1.0" fill="none"/>
<text x="127.5" y="283.8" font-size="8.5" text-anchor="middle" fill="#231f20">**</text>
<text x="116.25" y="297.1" font-size="8.5" text-anchor="middle" fill="#231f20">*</text>
<line x1="61.5" y1="284.75" x2="61.5" y2="360.5" stroke="#231f20" stroke-width="1.1"/>
<line x1="58" y1="360.5" x2="61.5" y2="360.5" stroke="#231f20" stroke-width="1.0"/>
<text x="55.5" y="363.9" font-size="8.7" text-anchor="end" fill="#231f20">0</text>
<line x1="58" y1="342.06" x2="61.5" y2="342.06" stroke="#231f20" stroke-width="1.0"/>
<text x="55.5" y="345.46" font-size="8.7" text-anchor="end" fill="#231f20">2</text>
<line x1="58" y1="323.62" x2="61.5" y2="323.62" stroke="#231f20" stroke-width="1.0"/>
<text x="55.5" y="327.02" font-size="8.7" text-anchor="end" fill="#231f20">4</text>
<line x1="58" y1="305.18" x2="61.5" y2="305.18" stroke="#231f20" stroke-width="1.0"/>
<text x="55.5" y="308.58" font-size="8.7" text-anchor="end" fill="#231f20">6</text>
<line x1="58" y1="286.74" x2="61.5" y2="286.74" stroke="#231f20" stroke-width="1.0"/>
<text x="55.5" y="290.14" font-size="8.7" text-anchor="end" fill="#231f20">8</text>
<line x1="58.5" y1="360.5" x2="171.25" y2="360.5" stroke="#231f20" stroke-width="1.1"/>
<line x1="72.5" y1="360.5" x2="72.5" y2="363.5" stroke="#231f20" stroke-width="1.0"/>
<line x1="94.4" y1="360.5" x2="94.4" y2="363.5" stroke="#231f20" stroke-width="1.0"/>
<line x1="116.3" y1="360.5" x2="116.3" y2="363.5" stroke="#231f20" stroke-width="1.0"/>
<line x1="138.2" y1="360.5" x2="138.2" y2="363.5" stroke="#231f20" stroke-width="1.0"/>
<line x1="160.1" y1="360.5" x2="160.1" y2="363.5" stroke="#231f20" stroke-width="1.0"/>
<text transform="translate(32,322.4) rotate(-90)" font-size="9.2" text-anchor="middle" textLength="77.6" lengthAdjust="spacingAndGlyphs" fill="#231f20">Surface retained poly<tspan dy="-2.6" font-size="6.8">P</tspan></text>
<text transform="translate(45,322.4) rotate(-90)" font-size="9.2" text-anchor="middle" textLength="80.2" lengthAdjust="spacingAndGlyphs" fill="#231f20">(nmol Pi/10<tspan dy="-2.8" font-size="6.2">8</tspan><tspan dy="2.8"> platelets)</tspan></text>
<text x="61.5" y="374.15" font-size="8.3" text-anchor="end" fill="#231f20">XVDL (µg ml<tspan dy="-2.6" font-size="5.15">-1</tspan><tspan dy="2.6">)</tspan></text>
<line x1="71.2" y1="371.55" x2="73.8" y2="371.55" stroke="#231f20" stroke-width="0.8"/>
<line x1="93.1" y1="371.55" x2="95.7" y2="371.55" stroke="#231f20" stroke-width="0.8"/>
<text x="116.3" y="374.15" font-size="8.3" text-anchor="middle" fill="#231f20">2</text>
<text x="138.2" y="374.15" font-size="8.3" text-anchor="middle" fill="#231f20">20</text>
<text x="160.1" y="374.15" font-size="8.3" text-anchor="middle" fill="#231f20">200</text>
<text x="61.5" y="384.4" font-size="8.3" text-anchor="end" fill="#231f20">Collagen</text>
<line x1="71.2" y1="381.8" x2="73.8" y2="381.8" stroke="#231f20" stroke-width="0.8"/>
<path d="M92.3,381.5H96.5M94.4,379.4V383.6" stroke="#231f20" stroke-width="0.8"/>
<path d="M114.2,381.5H118.4M116.3,379.4V383.6" stroke="#231f20" stroke-width="0.8"/>
<path d="M136.1,381.5H140.3M138.2,379.4V383.6" stroke="#231f20" stroke-width="0.8"/>
<path d="M158,381.5H162.2M160.1,379.4V383.6" stroke="#231f20" stroke-width="0.8"/>
<text x="240.3" y="283" font-size="11" font-weight="bold" fill="#000">G</text>
<line x1="317.5" y1="351.25" x2="317.5" y2="349.5" stroke="#231f20" stroke-width="0.9"/>
<line x1="314.5" y1="349.5" x2="320.5" y2="349.5" stroke="#231f20" stroke-width="0.9"/>
<rect x="310.8" y="351.25" width="13.4" height="9.25" fill="#c8c8cc"/>
<line x1="310.8" y1="351.55" x2="324.2" y2="351.55" stroke="#231f20" stroke-width="0.6" stroke-opacity="0.5"/>
<line x1="339.2" y1="334.5" x2="339.2" y2="328.25" stroke="#231f20" stroke-width="0.9"/>
<line x1="336.2" y1="328.25" x2="342.2" y2="328.25" stroke="#231f20" stroke-width="0.9"/>
<rect x="332.5" y="334.5" width="13.4" height="26" fill="#4b5166"/>
<line x1="332.5" y1="334.8" x2="345.9" y2="334.8" stroke="#231f20" stroke-width="0.6" stroke-opacity="0.5"/>
<line x1="361" y1="334.5" x2="361" y2="327.5" stroke="#231f20" stroke-width="0.9"/>
<line x1="358" y1="327.5" x2="364" y2="327.5" stroke="#231f20" stroke-width="0.9"/>
<rect x="354.3" y="334.5" width="13.4" height="26" fill="#25478c"/>
<line x1="354.3" y1="334.8" x2="367.7" y2="334.8" stroke="#231f20" stroke-width="0.6" stroke-opacity="0.5"/>
<line x1="382.9" y1="331.25" x2="382.9" y2="323" stroke="#231f20" stroke-width="0.9"/>
<line x1="379.9" y1="323" x2="385.9" y2="323" stroke="#231f20" stroke-width="0.9"/>
<rect x="376.2" y="331.25" width="13.4" height="29.25" fill="#25478c"/>
<line x1="376.2" y1="331.55" x2="389.6" y2="331.55" stroke="#231f20" stroke-width="0.6" stroke-opacity="0.5"/>
<line x1="404.8" y1="333" x2="404.8" y2="324.25" stroke="#231f20" stroke-width="0.9"/>
<line x1="401.8" y1="324.25" x2="407.8" y2="324.25" stroke="#231f20" stroke-width="0.9"/>
<rect x="398.1" y="333" width="13.4" height="27.5" fill="#25478c"/>
<line x1="398.1" y1="333.3" x2="411.5" y2="333.3" stroke="#231f20" stroke-width="0.6" stroke-opacity="0.5"/>
<circle cx="311.5" cy="348.5" r="1.25" fill="#fff" stroke="#231f20" stroke-width="0.8"/>
<circle cx="313.5" cy="349.5" r="1.25" fill="#fff" stroke="#231f20" stroke-width="0.8"/>
<circle cx="316.5" cy="350.5" r="1.25" fill="#fff" stroke="#231f20" stroke-width="0.8"/>
<circle cx="319.5" cy="351.5" r="1.25" fill="#fff" stroke="#231f20" stroke-width="0.8"/>
<circle cx="322.5" cy="352.5" r="1.25" fill="#fff" stroke="#231f20" stroke-width="0.8"/>
<circle cx="339.5" cy="318.5" r="1.25" fill="#fff" stroke="#231f20" stroke-width="0.8"/>
<circle cx="339.5" cy="322.5" r="1.25" fill="#fff" stroke="#231f20" stroke-width="0.8"/>
<circle cx="334.5" cy="340.5" r="1.25" fill="#fff" stroke="#231f20" stroke-width="0.8"/>
<circle cx="339.5" cy="343.5" r="1.25" fill="#fff" stroke="#231f20" stroke-width="0.8"/>
<circle cx="344.5" cy="343.5" r="1.25" fill="#fff" stroke="#231f20" stroke-width="0.8"/>
<circle cx="357.5" cy="318.5" r="1.25" fill="#fff" stroke="#231f20" stroke-width="0.8"/>
<circle cx="365.5" cy="320.5" r="1.25" fill="#fff" stroke="#231f20" stroke-width="0.8"/>
<circle cx="361.5" cy="335.5" r="1.25" fill="#fff" stroke="#231f20" stroke-width="0.8"/>
<circle cx="361.5" cy="346.5" r="1.25" fill="#fff" stroke="#231f20" stroke-width="0.8"/>
<circle cx="361.5" cy="350.5" r="1.25" fill="#fff" stroke="#231f20" stroke-width="0.8"/>
<circle cx="383.5" cy="308.5" r="1.25" fill="#fff" stroke="#231f20" stroke-width="0.8"/>
<circle cx="383.5" cy="315.5" r="1.25" fill="#fff" stroke="#231f20" stroke-width="0.8"/>
<circle cx="379.5" cy="338.5" r="1.25" fill="#fff" stroke="#231f20" stroke-width="0.8"/>
<circle cx="386.5" cy="342.5" r="1.25" fill="#fff" stroke="#231f20" stroke-width="0.8"/>
<circle cx="383.5" cy="348.5" r="1.25" fill="#fff" stroke="#231f20" stroke-width="0.8"/>
<circle cx="404.5" cy="311.5" r="1.25" fill="#fff" stroke="#231f20" stroke-width="0.8"/>
<circle cx="404.5" cy="320.5" r="1.25" fill="#fff" stroke="#231f20" stroke-width="0.8"/>
<circle cx="404.5" cy="331.5" r="1.25" fill="#fff" stroke="#231f20" stroke-width="0.8"/>
<circle cx="401.5" cy="348.5" r="1.25" fill="#fff" stroke="#231f20" stroke-width="0.8"/>
<circle cx="408.5" cy="349.5" r="1.25" fill="#fff" stroke="#231f20" stroke-width="0.8"/>
<path d="M338.5,312.1V309.5H361.5V312.1" stroke="#231f20" stroke-width="1.0" fill="none"/>
<path d="M338.5,302.75V300.5H383.5V302.75" stroke="#231f20" stroke-width="1.0" fill="none"/>
<path d="M338.5,293.25V290.5H404.5V303.05" stroke="#231f20" stroke-width="1.0" fill="none"/>
<text x="350" y="307.8" font-size="7.8" text-anchor="middle" fill="#231f20">ns</text>
<text x="360.75" y="298.5" font-size="7.8" text-anchor="middle" fill="#231f20">ns</text>
<text x="371.75" y="288.6" font-size="7.8" text-anchor="middle" fill="#231f20">ns</text>
<line x1="306.75" y1="284.25" x2="306.75" y2="360.5" stroke="#231f20" stroke-width="1.1"/>
<line x1="303.25" y1="360.5" x2="306.75" y2="360.5" stroke="#231f20" stroke-width="1.0"/>
<text x="301" y="363.9" font-size="8.7" text-anchor="end" fill="#231f20">0</text>
<line x1="303.25" y1="341.94" x2="306.75" y2="341.94" stroke="#231f20" stroke-width="1.0"/>
<text x="301" y="345.34" font-size="8.7" text-anchor="end" fill="#231f20">2</text>
<line x1="303.25" y1="323.38" x2="306.75" y2="323.38" stroke="#231f20" stroke-width="1.0"/>
<text x="301" y="326.78" font-size="8.7" text-anchor="end" fill="#231f20">4</text>
<line x1="303.25" y1="304.82" x2="306.75" y2="304.82" stroke="#231f20" stroke-width="1.0"/>
<text x="301" y="308.22" font-size="8.7" text-anchor="end" fill="#231f20">6</text>
<line x1="303.25" y1="286.26" x2="306.75" y2="286.26" stroke="#231f20" stroke-width="1.0"/>
<text x="301" y="289.66" font-size="8.7" text-anchor="end" fill="#231f20">8</text>
<line x1="303.5" y1="360.5" x2="416.25" y2="360.5" stroke="#231f20" stroke-width="1.1"/>
<line x1="317.5" y1="360.5" x2="317.5" y2="363.5" stroke="#231f20" stroke-width="1.0"/>
<line x1="339.2" y1="360.5" x2="339.2" y2="363.5" stroke="#231f20" stroke-width="1.0"/>
<line x1="361" y1="360.5" x2="361" y2="363.5" stroke="#231f20" stroke-width="1.0"/>
<line x1="382.9" y1="360.5" x2="382.9" y2="363.5" stroke="#231f20" stroke-width="1.0"/>
<line x1="404.8" y1="360.5" x2="404.8" y2="363.5" stroke="#231f20" stroke-width="1.0"/>
<text transform="translate(277.2,322.4) rotate(-90)" font-size="9.2" text-anchor="middle" textLength="77.6" lengthAdjust="spacingAndGlyphs" fill="#231f20">Surface retained poly<tspan dy="-2.6" font-size="6.8">P</tspan></text>
<text transform="translate(290.2,322.4) rotate(-90)" font-size="9.2" text-anchor="middle" textLength="80.2" lengthAdjust="spacingAndGlyphs" fill="#231f20">(nmol Pi/10<tspan dy="-2.8" font-size="6.2">8</tspan><tspan dy="2.8"> platelets)</tspan></text>
<text x="306.5" y="374.15" font-size="8.3" text-anchor="end" fill="#231f20">PVDL (µg ml<tspan dy="-2.6" font-size="5.15">-1</tspan><tspan dy="2.6">)</tspan></text>
<line x1="316.2" y1="371.55" x2="318.8" y2="371.55" stroke="#231f20" stroke-width="0.8"/>
<line x1="337.9" y1="371.55" x2="340.5" y2="371.55" stroke="#231f20" stroke-width="0.8"/>
<text x="361" y="374.15" font-size="8.3" text-anchor="middle" fill="#231f20">2</text>
<text x="382.9" y="374.15" font-size="8.3" text-anchor="middle" fill="#231f20">20</text>
<text x="404.8" y="374.15" font-size="8.3" text-anchor="middle" fill="#231f20">200</text>
<text x="306.5" y="384.15" font-size="8.3" text-anchor="end" fill="#231f20">Collagen</text>
<line x1="316.2" y1="381.55" x2="318.8" y2="381.55" stroke="#231f20" stroke-width="0.8"/>
<path d="M337.1,381.25H341.3M339.2,379.15V383.35" stroke="#231f20" stroke-width="0.8"/>
<path d="M358.9,381.25H363.1M361,379.15V383.35" stroke="#231f20" stroke-width="0.8"/>
<path d="M380.8,381.25H385M382.9,379.15V383.35" stroke="#231f20" stroke-width="0.8"/>
<path d="M402.7,381.25H406.9M404.8,379.15V383.35" stroke="#231f20" stroke-width="0.8"/>
<text x="7.5" y="405.5" font-size="11" font-weight="bold" fill="#000">H</text>
<polyline points="61.25,480 62.08,480 62.9,480 63.73,480 64.55,480 65.38,480 66.2,480 67.03,480 67.85,480 68.67,480 69.5,480 70.33,480 71.15,480 71.97,480 72.8,480 73.62,480 74.45,480 75.28,480 76.1,480 76.92,480 77.75,480 78.58,480 79.4,480 80.22,480 81.05,480 81.88,480 82.7,480 83.53,480 84.35,480 85.17,480 86,480 86.83,480 87.65,480 88.47,480 89.3,480 90.12,480 90.95,480 91.78,480 92.6,480 93.42,480 94.25,480 95.07,480 95.9,480 96.72,480 97.55,480 98.38,480 99.2,480 100.03,480 100.85,480 101.67,480 102.5,480 103.32,480 104.15,480 104.97,479.91 105.8,479.68 106.62,479.39 107.45,479.12 108.28,478.86 109.1,478.57 109.92,478.27 110.75,478.34 111.57,477.69 112.4,477.7 113.22,477.12 114.05,477.54 114.88,477.11 115.7,476.58 116.53,476.33 117.35,476.93 118.17,476.44 119,476.17 119.82,476.3 120.65,475.75 121.47,476.3 122.3,475.9 123.12,476.18 123.95,475.63 124.78,475.94 125.6,476.03 126.42,476.33 127.25,475.59 128.07,475.81 128.9,475.82 129.72,475.75 130.55,475.95 131.38,476.2 132.2,476.3 133.02,476.38 133.85,475.99 134.68,476.72 135.5,476.63 136.32,476.67 137.15,476.64 137.97,476.64 138.8,477.13 139.62,477.32 140.45,477.03 141.27,476.84 142.1,477.03 142.93,477.23 143.75,477.42 144.57,477.36 145.4,477.55 146.22,477.38 147.05,477.8 147.88,477.66 148.7,477.78 149.52,477.7 150.35,477.83 151.18,477.38 152,477.68 152.82,477.75 153.65,478.6 154.47,478.29 155.3,478.41 156.12,478.23 156.95,478.91 157.77,478.22 158.6,478.31 159.43,478.9 160.25,478.89" fill="none" stroke="#4b1d6b" stroke-width="1.0" stroke-linejoin="round"/>
<polyline points="61.25,480 62.08,480 62.9,480 63.73,480 64.55,480 65.38,480 66.2,480 67.03,480 67.85,480 68.67,480 69.5,480 70.33,480 71.15,480 71.97,480 72.8,480 73.62,480 74.45,480 75.28,480 76.1,480 76.92,480 77.75,480 78.58,480 79.4,480 80.22,480 81.05,480 81.88,480 82.7,480 83.53,480 84.35,480 85.17,480 86,480 86.83,480 87.65,480 88.47,480 89.3,480 90.12,479.63 90.95,478.76 91.78,477.79 92.6,476.77 93.42,475.6 94.25,474.44 95.07,473.2 95.9,471.92 96.72,470.67 97.55,469.49 98.38,468.44 99.2,467.55 100.03,466.7 100.85,465.9 101.67,465.17 102.5,464.53 103.32,464 104.15,463.6 104.97,463.25 105.8,462.95 106.62,462.71 107.45,462.55 108.28,462.45 109.1,462.36 109.92,462.33 110.75,461.17 111.57,462.66 112.4,463.12 113.22,463.04 114.05,462.96 114.88,463.99 115.7,463.72 116.53,464.24 117.35,463.6 118.17,465.2 119,464.5 119.82,465.74 120.65,466.18 121.47,466.27 122.3,466.78 123.12,466.24 123.95,465.98 124.78,466.73 125.6,466.75 126.42,466.48 127.25,467.58 128.07,467.96 128.9,468.58 129.72,469.71 130.55,468.71 131.38,470.52 132.2,469.5 133.02,470.24 133.85,469.94 134.68,470.96 135.5,471.71 136.32,471.33 137.15,472.14 137.97,472.17 138.8,472.29 139.62,472.62 140.45,472.88 141.27,473.47 142.1,473.31 142.93,474.64 143.75,473.7 144.57,474.5 145.4,473.36 146.22,473.46 147.05,475.49 147.88,474.47 148.7,474.8 149.52,475.51 150.35,474.77 151.18,475.51 152,476.43 152.82,475.74 153.65,475.83 154.47,475.84 155.3,476.76 156.12,475.85 156.95,475.93 157.77,477.16 158.6,477.02 159.43,476.82 160.25,477.23" fill="none" stroke="#2d5a9c" stroke-width="1.0" stroke-linejoin="round"/>
<polyline points="61.25,480 62.08,480 62.9,480 63.73,480 64.55,480 65.38,480 66.2,480 67.03,480 67.85,480 68.67,480 69.5,480 70.33,480 71.15,480 71.97,480 72.8,480 73.62,480 74.45,480 75.28,479.95 76.1,478.5 76.92,476.47 77.75,474.42 78.58,472.67 79.4,472.01 80.22,471.58 81.05,471.26 81.88,470.95 82.7,470.67 83.53,470.46 84.35,470.18 85.17,469.7 86,468.29 86.83,466.31 87.65,463.85 88.47,460.85 89.3,457.98 90.12,455.9 90.95,454.36 91.78,453.14 92.6,452.32 93.42,451.66 94.25,451.3 95.07,451.42 95.9,451.87 96.72,452.47 97.55,453.06 98.38,453.59 99.2,454.17 100.03,454.82 100.85,455.42 101.67,457.69 102.5,455.78 103.32,459.63 104.15,457.54 104.97,461.03 105.8,459.64 106.62,462.63 107.45,462.62 108.28,464.33 109.1,462.88 109.92,465.87 110.75,464.81 111.57,466.42 112.4,465.71 113.22,468.56 114.05,466.98 114.88,468.71 115.7,468.15 116.53,469.89 117.35,468.42 118.17,471.33 119,470.5 119.82,472.71 120.65,470.7 121.47,472.37 122.3,471.16 123.12,473.09 123.95,472.05 124.78,473.8 125.6,472.7 126.42,474.74 127.25,473.74 128.07,475.98 128.9,474.08 129.72,476.47 130.55,474.98 131.38,476.37 132.2,475.28 133.02,476.05 133.85,475.52 134.68,478.35 135.5,476.32 136.32,478.58 137.15,477.5 137.97,478.62 138.8,477.81 139.62,480 140.45,477.35 141.27,479.84 142.1,477.24 142.93,480 143.75,478.59 144.57,479.22 145.4,478.68 146.22,479.94 147.05,477.67 147.88,480 148.7,478.44 149.52,480 150.35,478.09 151.18,480 152,478.25 152.82,480 153.65,477.54 154.47,480 155.3,479.02 156.12,480 156.95,478.82 157.77,480 158.6,478.61 159.43,479.92 160.25,478.97" fill="none" stroke="#64ad3d" stroke-width="1.0" stroke-linejoin="round"/>
<polyline points="61.25,480 62.08,480 62.9,480 63.73,480 64.55,480 65.38,480 66.2,480 67.03,480 67.85,480 68.67,480 69.5,480 70.33,480 71.15,480 71.97,480 72.8,480 73.62,480 74.45,480 75.28,478.79 76.1,476.47 76.92,473.66 77.75,470.21 78.58,466.89 79.4,464.12 80.22,461.53 81.05,459.07 81.88,456.76 82.7,454.57 83.53,452.43 84.35,450.36 85.17,448.46 86,446.82 86.83,445.46 87.65,444.24 88.47,443.21 89.3,442.46 90.12,441.88 90.95,441.37 91.78,441.06 92.6,441.04 93.42,441.44 94.25,442.13 95.07,442.9 95.9,443.84 96.72,445.03 97.55,446.25 98.38,447.4 99.2,448.58 100.03,449.96 100.85,451.88 101.67,453.74 102.5,455.26 103.32,456.82 104.15,458.84 104.97,461.27 105.8,462.85 106.62,464.14 107.45,465.42 108.28,466.86 109.1,468.08 109.92,469.13 110.75,470.07 111.57,470.91 112.4,471.61 113.22,472.22 114.05,472.74 114.88,473.27 115.7,473.7 116.53,473.84 117.35,474.97 118.17,475.42 119,475.22 119.82,475.94 120.65,476.03 121.47,476.04 122.3,476.12 123.12,476.88 123.95,476.41 124.78,477.5 125.6,476.85 126.42,477.76 127.25,477.81 128.07,477.29 128.9,477.81 129.72,478.09 130.55,478.1 131.38,477.91 132.2,478.21 133.02,478.32 133.85,478.04 134.68,478.77 135.5,478.77 136.32,478.87 137.15,478.35 137.97,478.48 138.8,478.44 139.62,478.97 140.45,479.07 141.27,478.77 142.1,479.26 142.93,478.87 143.75,478.95 144.57,479.5 145.4,479.31 146.22,479.36 147.05,478.72 147.88,478.44 148.7,479.42 149.52,479.4 150.35,480 151.18,479.37 152,479.46 152.82,479.86 153.65,479.21 154.47,480 155.3,479.6 156.12,479.48 156.95,479.98 157.77,479.25 158.6,479.18 159.43,480 160.25,480" fill="none" stroke="#c0163c" stroke-width="1.0" stroke-linejoin="round"/>
<polyline points="61.25,480 62.08,480 62.9,480 63.73,480 64.55,480 65.38,480 66.2,480 67.03,480 67.85,480 68.67,479.6 69.5,478.67 70.33,476.6 71.15,473.03 71.97,468.81 72.8,464.59 73.62,459.52 74.45,453.97 75.28,448.69 76.1,444.44 76.92,441.44 77.75,438.99 78.58,437.16 79.4,435.65 80.22,434.62 81.05,434.57 81.88,434.92 82.7,435.39 83.53,435.99 84.35,436.81 85.17,437.81 86,439.38 86.83,440.71 87.65,442.65 88.47,443.96 89.3,446.97 90.12,448.73 90.95,450.47 91.78,452.15 92.6,454.3 93.42,456.15 94.25,457.81 95.07,458.34 95.9,459.12 96.72,461.2 97.55,462.69 98.38,463.91 99.2,466.09 100.03,466.94 100.85,468.09 101.67,468.88 102.5,470.15 103.32,471.85 104.15,471.23 104.97,471.62 105.8,473.5 106.62,473.69 107.45,474.31 108.28,474.49 109.1,476.38 109.92,474.91 110.75,476.6 111.57,475.87 112.4,476.86 113.22,477.35 114.05,477.37 114.88,476.87 115.7,478.09 116.53,477.91 117.35,478.1 118.17,478.99 119,477.27 119.82,477.86 120.65,478.39 121.47,477.81 122.3,479.27 123.12,478.84 123.95,477.83 124.78,478.37 125.6,480 126.42,480 127.25,479.81 128.07,478.56 128.9,479.56 129.72,479.45 130.55,478.98 131.38,479.94 132.2,479.29 133.02,478.97 133.85,479.2 134.68,479.28 135.5,479.93 136.32,479.26 137.15,479.87 137.97,478.83 138.8,478.07 139.62,480 140.45,480 141.27,479.99 142.1,479.51 142.93,479.11 143.75,479.11 144.57,480 145.4,480 146.22,479.04 147.05,480 147.88,479.18 148.7,480 149.52,479.41 150.35,479.46 151.18,479.43 152,479.42 152.82,480 153.65,479.76 154.47,479.95 155.3,479.77 156.12,479.21 156.95,480 157.77,480 158.6,480 159.43,480 160.25,479.53" fill="none" stroke="#9c92d8" stroke-width="1.0" stroke-linejoin="round"/>
<line x1="61.5" y1="411.75" x2="61.5" y2="483" stroke="#231f20" stroke-width="1.1"/>
<line x1="58" y1="480" x2="61.5" y2="480" stroke="#231f20" stroke-width="1.0"/>
<text x="55.3" y="483.4" font-size="8.7" text-anchor="end" fill="#231f20">0</text>
<line x1="58" y1="457.92" x2="61.5" y2="457.92" stroke="#231f20" stroke-width="1.0"/>
<text x="55.3" y="461.31" font-size="8.7" text-anchor="end" textLength="9.39" lengthAdjust="spacingAndGlyphs" fill="#231f20">50</text>
<line x1="58" y1="435.83" x2="61.5" y2="435.83" stroke="#231f20" stroke-width="1.0"/>
<text x="55.3" y="439.23" font-size="8.7" text-anchor="end" textLength="13.08" lengthAdjust="spacingAndGlyphs" fill="#231f20">100</text>
<line x1="58" y1="413.75" x2="61.5" y2="413.75" stroke="#231f20" stroke-width="1.0"/>
<text x="55.3" y="417.14" font-size="8.7" text-anchor="end" textLength="13.08" lengthAdjust="spacingAndGlyphs" fill="#231f20">150</text>
<line x1="58.5" y1="480" x2="163" y2="480" stroke="#231f20" stroke-width="1.1"/>
<line x1="61.25" y1="480" x2="61.25" y2="483" stroke="#231f20" stroke-width="1.0"/>
<line x1="94.25" y1="480" x2="94.25" y2="483" stroke="#231f20" stroke-width="1.0"/>
<line x1="127.25" y1="480" x2="127.25" y2="483" stroke="#231f20" stroke-width="1.0"/>
<line x1="160.25" y1="480" x2="160.25" y2="483" stroke="#231f20" stroke-width="1.0"/>
<text x="61.25" y="494.1" font-size="8.7" text-anchor="middle" fill="#231f20">0</text>
<text x="94.25" y="494.1" font-size="8.7" text-anchor="middle" textLength="9.39" lengthAdjust="spacingAndGlyphs" fill="#231f20">20</text>
<text x="127.25" y="494.1" font-size="8.7" text-anchor="middle" textLength="9.39" lengthAdjust="spacingAndGlyphs" fill="#231f20">40</text>
<text x="160.25" y="494.1" font-size="8.7" text-anchor="middle" textLength="9.39" lengthAdjust="spacingAndGlyphs" fill="#231f20">60</text>
<text x="113" y="506.75" font-size="10" text-anchor="middle" textLength="38.3" lengthAdjust="spacingAndGlyphs" fill="#231f20">Time (min)</text>
<text transform="translate(34.6,445.6) rotate(-90)" font-size="10" text-anchor="middle" textLength="52.5" lengthAdjust="spacingAndGlyphs" fill="#231f20">Thrombin (nM)</text>
<line x1="112.8" y1="409.5" x2="120.5" y2="409.5" stroke="#4b1d6b" stroke-width="1.0"/>
<text x="123.75" y="412.2" font-size="7.8" textLength="20.5" lengthAdjust="spacingAndGlyphs" fill="#231f20">Buffer</text>
<line x1="112.8" y1="417.5" x2="120.5" y2="417.5" stroke="#2d5a9c" stroke-width="1.0"/>
<text x="123.75" y="420.6" font-size="7.8" textLength="30.8" lengthAdjust="spacingAndGlyphs" fill="#231f20">Collagen</text>
<line x1="112.8" y1="426.5" x2="120.5" y2="426.5" stroke="#64ad3d" stroke-width="1.0"/>
<text x="123.75" y="428.8" font-size="7.8" textLength="91.3" lengthAdjust="spacingAndGlyphs" fill="#231f20">2 µg ml<tspan dy="-2.6" font-size="4.84">-1</tspan><tspan dy="2.6"> XVDL + collagen</tspan></text>
<line x1="112.8" y1="434.5" x2="120.5" y2="434.5" stroke="#c0163c" stroke-width="1.0"/>
<text x="123.75" y="437.2" font-size="7.8" textLength="95.8" lengthAdjust="spacingAndGlyphs" fill="#231f20">20 µg ml<tspan dy="-2.6" font-size="4.84">-1</tspan><tspan dy="2.6"> XVDL + collagen</tspan></text>
<line x1="112.8" y1="442.5" x2="120.5" y2="442.5" stroke="#9c92d8" stroke-width="1.0"/>
<text x="123.75" y="445.8" font-size="7.8" textLength="100" lengthAdjust="spacingAndGlyphs" fill="#231f20">200 µg ml<tspan dy="-2.6" font-size="4.84">-1</tspan><tspan dy="2.6"> XVDL + collagen</tspan></text>
<text x="242.6" y="405.3" font-size="11" font-weight="bold" fill="#000">I</text>
<polyline points="306.83,476.63 307.79,477.51 308.75,478.17 309.71,478.72 310.68,479.12" fill="none" stroke="#64ad3d" stroke-width="1.0" stroke-linejoin="round"/>
<polyline points="306.83,477.93 307.79,478.15 308.75,478.35 309.71,478.52 310.68,478.67" fill="none" stroke="#2d5a9c" stroke-width="1.0" stroke-linejoin="round"/>
<polyline points="315.66,480 316.62,480 317.58,480 318.55,480 319.51,480 320.47,480 321.44,480 322.4,480 323.36,480 324.32,480 325.29,480 326.25,480 327.21,480 328.17,480 329.13,480 330.1,480 331.06,480 332.02,480 332.99,480 333.95,480 334.91,480 335.87,480 336.83,480 337.8,480 338.76,480 339.72,480 340.69,480 341.65,480 342.61,480 343.57,480 344.54,480 345.5,479.96 346.46,479.88 347.42,479.77 348.38,479.51 349.35,479.57 350.31,479.29 351.27,479.37 352.24,479.17 353.2,478.74 354.16,478.65 355.12,478.45 356.08,478.28 357.05,477.94 358.01,477.97 358.97,477.75 359.94,477.48 360.9,477.44 361.86,477.32 362.82,477.13 363.79,477.05 364.75,476.97 365.71,476.63 366.67,476.62 367.63,476.48 368.6,476.54 369.56,476.49 370.52,476.5 371.49,476.24 372.45,476.36 373.41,476.04 374.37,475.75 375.34,475.53 376.3,475.51 377.26,475.66 378.22,475.38 379.19,475.46 380.15,475.16 381.11,475.2 382.07,474.98 383.04,474.67 384,474.8 384.96,474.53 385.92,474.73 386.88,474.71 387.85,474.4 388.81,474.26 389.77,474.47 390.74,474.3 391.7,474.42 392.66,474.16 393.62,473.93 394.59,473.97 395.55,473.95 396.51,473.97 397.47,473.64 398.44,473.49 399.4,473.43 400.36,473.38 401.32,473.49 402.29,472.99 403.25,473.14" fill="none" stroke="#4b1d6b" stroke-width="1.0" stroke-linejoin="round"/>
<line x1="403.44" y1="473.11" x2="403.44" y2="480" stroke="#4b1d6b" stroke-width="1.0"/>
<polyline points="315.66,479.34 316.62,479.34 317.58,479.34 318.55,479.34 319.51,479.34 320.47,479.34 321.44,479.34 322.4,479.34 323.36,479.34 324.32,479.34 325.29,479.23 326.25,478.22 327.21,476.48 328.17,472.49 329.13,467.33 330.1,462.74 331.06,459.9 332.02,457.57 332.99,455.56 333.95,453.9 334.91,452.61 335.87,451.57 336.83,450.65 337.8,449.88 338.76,449.31 339.72,448.96 340.69,448.66 341.65,448.42 342.61,448.26 343.57,448.2 344.54,448.45 345.5,449.07 346.46,449.92 347.42,450.81 348.38,451.59 349.35,452.36 350.31,452.01 351.27,454.94 352.24,454.36 353.2,456.91 354.16,456.4 355.12,458.81 356.08,458.93 357.05,461.49 358.01,461.13 358.97,463.87 359.94,462.36 360.9,465.41 361.86,464.07 362.82,465.72 363.79,465.8 364.75,467.6 365.71,467.22 366.67,468.96 367.63,468.32 368.6,469.99 369.56,468.97 370.52,470.78 371.49,469.09 372.45,471.66 373.41,470.39 374.37,472.73 375.34,471.7 376.3,473.99 377.26,473.25 378.22,474.53 379.19,472.72 380.15,475.14 381.11,474.31 382.07,475.39 383.04,474.98 384,476.98 384.96,475.94 385.92,477.73 386.88,476.13 387.85,477.08 388.81,476.59 389.77,478.69 390.74,477.09 391.7,478.67 392.66,477.81 393.62,478.79 394.59,477.09 395.55,478.93 396.51,477.33 397.47,479.77 398.44,478.43 399.4,478.92 400.36,477.5 401.32,480 402.29,478.01 403.25,479.74 404.21,478.01 405.17,479.79" fill="none" stroke="#64ad3d" stroke-width="1.0" stroke-linejoin="round"/>
<polyline points="315.66,477.35 316.62,477.35 317.58,477.35 318.55,477.35 319.51,477.35 320.47,477.35 321.44,477.35 322.4,477.35 323.36,477.35 324.32,477.3 325.29,476.86 326.25,476.08 327.21,474.36 328.17,471.97 329.13,469.43 330.1,466.8 331.06,463.67 332.02,460.76 332.99,458.8 333.95,457.75 334.91,456.98 335.87,456.32 336.83,455.66 337.8,455.28 338.76,455.26 339.72,455.26 340.69,455.3 341.65,455.57 342.61,455.99 343.57,456.39 344.54,456.85 345.5,457.36 346.46,457.91 347.42,458.47 348.38,458.09 349.35,461.17 350.31,458.65 351.27,461.74 352.24,460.98 353.2,463.18 354.16,462.44 355.12,464.16 356.08,463.38 357.05,464.62 358.01,463.81 358.97,467.2 359.94,465.98 360.9,467.93 361.86,467.36 362.82,468.9 363.79,467.65 364.75,470.27 365.71,468.93 366.67,470.73 367.63,469.03 368.6,471.21 369.56,470.5 370.52,472.3 371.49,471.62 372.45,473.24 373.41,472.44 374.37,473.81 375.34,473.25 376.3,475.23 377.26,473.36 378.22,475.18 379.19,474.59 380.15,476.24 381.11,474.46 382.07,476.46 383.04,475.44 384,477.06 384.96,475.71 385.92,476.98 386.88,475.81 387.85,478.62 388.81,477.42 389.77,478.32 390.74,476.21 391.7,478.54 392.66,476.58 393.62,479.05 394.59,477.77 395.55,478.7 396.51,477.3 397.47,478.89 398.44,478.12 399.4,479.27 400.36,477.94 401.32,479.14 402.29,478.06 403.25,479.9 404.21,478.18 405.17,479.19" fill="none" stroke="#2d5a9c" stroke-width="1.0" stroke-linejoin="round"/>
<polyline points="315.66,479.34 316.62,479.34 317.58,479.34 318.55,479.34 319.51,479.34 320.47,479.34 321.44,479.34 322.4,479.34 323.36,479.34 324.32,479.34 325.29,479.27 326.25,478.7 327.21,477.87 328.17,476.51 329.13,474.74 330.1,472.84 331.06,471.1 332.02,469.79 332.99,468.7 333.95,467.65 334.91,466.7 335.87,465.85 336.83,465.15 337.8,464.62 338.76,464.23 339.72,463.86 340.69,463.53 341.65,463.25 342.61,463.04 343.57,462.93 344.54,462.91 345.5,462.96 346.46,463.06 347.42,463.19 348.38,463.35 349.35,463.53 350.31,463.71 351.27,463.91 352.24,464.16 353.2,464.45 354.16,464.34 355.12,465.19 356.08,464.48 357.05,467.07 358.01,465.73 358.97,467.11 359.94,466.3 360.9,468.34 361.86,466.74 362.82,468.81 363.79,467.44 364.75,469.63 365.71,467.79 366.67,469.82 367.63,469.95 368.6,470.23 369.56,469.88 370.52,471.47 371.49,470.88 372.45,472.46 373.41,471.01 374.37,473.05 375.34,471.16 376.3,473.19 377.26,472.28 378.22,473.78 379.19,471.78 380.15,473.73 381.11,472.62 382.07,474.59 383.04,473.02 384,475.47 384.96,474.06 385.92,474.83 386.88,474.2 387.85,475.99 388.81,474.81 389.77,475.86 390.74,474.05 391.7,476.84 392.66,474.89 393.62,477.35 394.59,474.59 395.55,476.85 396.51,475.98 397.47,476.93 398.44,475.67 399.4,477.53 400.36,475.9 401.32,478.23 402.29,476.52 403.25,477.88 404.21,476.52 405.17,478.78" fill="none" stroke="#c0163c" stroke-width="1.0" stroke-linejoin="round"/>
<polyline points="315.66,480 316.62,480 317.58,480 318.55,480 319.51,480 320.47,480 321.44,480 322.4,480 323.36,480 324.32,480 325.29,480 326.25,480 327.21,480 328.17,480 329.13,480 330.1,479.38 331.06,477.58 332.02,475.78 332.99,473.87 333.95,471.91 334.91,470.06 335.87,468.17 336.83,466.3 337.8,464.56 338.76,463.07 339.72,461.9 340.69,460.9 341.65,460.02 342.61,459.21 343.57,458.48 344.54,457.8 345.5,457.16 346.46,456.53 347.42,455.91 348.38,455.08 349.35,454.27 350.31,454.42 351.27,454.33 352.24,453.65 353.2,453.84 354.16,453.89 355.12,452.66 356.08,453.23 357.05,453.02 358.01,453.02 358.97,454.2 359.94,453.9 360.9,454.47 361.86,455.32 362.82,455.79 363.79,457.04 364.75,458.44 365.71,458.37 366.67,459.49 367.63,459.58 368.6,460.72 369.56,461.95 370.52,462.55 371.49,462.84 372.45,463.81 373.41,465 374.37,465.79 375.34,466.88 376.3,467.57 377.26,467.98 378.22,468.99 379.19,469.48 380.15,470.76 381.11,471.67 382.07,472.33 383.04,472.38 384,472.14 384.96,472.66 385.92,474.02 386.88,474.63 387.85,473.92 388.81,474.37 389.77,475.47 390.74,474.67 391.7,475.33 392.66,475.1 393.62,475.8 394.59,475.82 395.55,476.32 396.51,477.13 397.47,477.04 398.44,477.47 399.4,477.02 400.36,478.04 401.32,478.49 402.29,477.71 403.25,477.7 404.21,477.75 405.17,478.08" fill="none" stroke="#9c92d8" stroke-width="1.0" stroke-linejoin="round"/>
<line x1="306.25" y1="411.75" x2="306.25" y2="483" stroke="#231f20" stroke-width="1.1"/>
<line x1="302.75" y1="480" x2="306.25" y2="480" stroke="#231f20" stroke-width="1.0"/>
<text x="300.8" y="483.4" font-size="8.7" text-anchor="end" fill="#231f20">0</text>
<line x1="302.75" y1="457.92" x2="306.25" y2="457.92" stroke="#231f20" stroke-width="1.0"/>
<text x="300.8" y="461.31" font-size="8.7" text-anchor="end" textLength="9.39" lengthAdjust="spacingAndGlyphs" fill="#231f20">50</text>
<line x1="302.75" y1="435.83" x2="306.25" y2="435.83" stroke="#231f20" stroke-width="1.0"/>
<text x="300.8" y="439.23" font-size="8.7" text-anchor="end" textLength="13.08" lengthAdjust="spacingAndGlyphs" fill="#231f20">100</text>
<line x1="302.75" y1="413.75" x2="306.25" y2="413.75" stroke="#231f20" stroke-width="1.0"/>
<text x="300.8" y="417.14" font-size="8.7" text-anchor="end" textLength="13.08" lengthAdjust="spacingAndGlyphs" fill="#231f20">150</text>
<line x1="306.25" y1="480" x2="311" y2="480" stroke="#231f20" stroke-width="1.1"/>
<line x1="315.2" y1="480" x2="407.5" y2="480" stroke="#231f20" stroke-width="1.1"/>
<line x1="311" y1="478.6" x2="311" y2="482.3" stroke="#231f20" stroke-width="0.9"/>
<line x1="315.2" y1="478.6" x2="315.2" y2="482.3" stroke="#231f20" stroke-width="0.9"/>
<line x1="328.75" y1="480" x2="328.75" y2="483" stroke="#231f20" stroke-width="1.0"/>
<line x1="367.25" y1="480" x2="367.25" y2="483" stroke="#231f20" stroke-width="1.0"/>
<line x1="405.75" y1="480" x2="405.75" y2="483" stroke="#231f20" stroke-width="1.0"/>
<text x="306.25" y="494.1" font-size="8.7" text-anchor="middle" fill="#231f20">0</text>
<text x="328.75" y="494.1" font-size="8.7" text-anchor="middle" textLength="9.39" lengthAdjust="spacingAndGlyphs" fill="#231f20">20</text>
<text x="367.25" y="494.1" font-size="8.7" text-anchor="middle" textLength="9.39" lengthAdjust="spacingAndGlyphs" fill="#231f20">40</text>
<text x="405.75" y="494.1" font-size="8.7" text-anchor="middle" textLength="9.39" lengthAdjust="spacingAndGlyphs" fill="#231f20">60</text>
<text x="357" y="506.5" font-size="10" text-anchor="middle" textLength="38.3" lengthAdjust="spacingAndGlyphs" fill="#231f20">Time (min)</text>
<text transform="translate(279.6,445.6) rotate(-90)" font-size="10" text-anchor="middle" textLength="52.5" lengthAdjust="spacingAndGlyphs" fill="#231f20">Thrombin (nM)</text>
<line x1="343.75" y1="406.5" x2="351.25" y2="406.5" stroke="#4b1d6b" stroke-width="1.0"/>
<text x="354.5" y="409.1" font-size="7.8" textLength="20.5" lengthAdjust="spacingAndGlyphs" fill="#231f20">Buffer</text>
<line x1="343.75" y1="414.5" x2="351.25" y2="414.5" stroke="#2d5a9c" stroke-width="1.0"/>
<text x="354.5" y="417.4" font-size="7.8" textLength="30.8" lengthAdjust="spacingAndGlyphs" fill="#231f20">Collagen</text>
<line x1="343.75" y1="423.5" x2="351.25" y2="423.5" stroke="#64ad3d" stroke-width="1.0"/>
<text x="354.5" y="426" font-size="7.8" textLength="91.7" lengthAdjust="spacingAndGlyphs" fill="#231f20">2 µg ml<tspan dy="-2.6" font-size="4.84">-1</tspan><tspan dy="2.6"> PVDL + collagen</tspan></text>
<line x1="343.75" y1="431.5" x2="351.25" y2="431.5" stroke="#c0163c" stroke-width="1.0"/>
<text x="354.5" y="434.5" font-size="7.8" textLength="95.5" lengthAdjust="spacingAndGlyphs" fill="#231f20">20 µg ml<tspan dy="-2.6" font-size="4.84">-1</tspan><tspan dy="2.6"> PVDL + collagen</tspan></text>
<line x1="343.75" y1="440.5" x2="351.25" y2="440.5" stroke="#9c92d8" stroke-width="1.0"/>
<text x="354.5" y="443.2" font-size="7.8" textLength="100" lengthAdjust="spacingAndGlyphs" fill="#231f20">200 µg ml<tspan dy="-2.6" font-size="4.84">-1</tspan><tspan dy="2.6"> PVDL + collagen</tspan></text>
<text x="8.6" y="529.3" font-size="11" font-weight="bold" fill="#000">J</text>
<line x1="73.5" y1="607" x2="73.5" y2="605.5" stroke="#231f20" stroke-width="0.9"/>
<line x1="71.1" y1="605.5" x2="75.9" y2="605.5" stroke="#231f20" stroke-width="0.9"/>
<rect x="69.12" y="607" width="8.75" height="14.25" fill="#c8c8cc"/>
<line x1="69.12" y1="607.3" x2="77.88" y2="607.3" stroke="#231f20" stroke-width="0.6" stroke-opacity="0.5"/>
<line x1="87.8" y1="579.25" x2="87.8" y2="573.75" stroke="#231f20" stroke-width="0.9"/>
<line x1="85.4" y1="573.75" x2="90.2" y2="573.75" stroke="#231f20" stroke-width="0.9"/>
<rect x="83.42" y="579.25" width="8.75" height="42" fill="#4b5166"/>
<line x1="83.42" y1="579.55" x2="92.17" y2="579.55" stroke="#231f20" stroke-width="0.6" stroke-opacity="0.5"/>
<line x1="102" y1="555.75" x2="102" y2="552.5" stroke="#231f20" stroke-width="0.9"/>
<line x1="99.6" y1="552.5" x2="104.4" y2="552.5" stroke="#231f20" stroke-width="0.9"/>
<rect x="97.62" y="555.75" width="8.75" height="65.5" fill="#a8062a"/>
<line x1="97.62" y1="556.05" x2="106.38" y2="556.05" stroke="#231f20" stroke-width="0.6" stroke-opacity="0.5"/>
<line x1="116.25" y1="606.25" x2="116.25" y2="602.3" stroke="#231f20" stroke-width="0.9"/>
<line x1="113.85" y1="602.3" x2="118.65" y2="602.3" stroke="#231f20" stroke-width="0.9"/>
<rect x="111.88" y="606.25" width="8.75" height="15" fill="#64ad3d"/>
<line x1="111.88" y1="606.55" x2="120.62" y2="606.55" stroke="#231f20" stroke-width="0.6" stroke-opacity="0.5"/>
<line x1="130.6" y1="610" x2="130.6" y2="609.3" stroke="#231f20" stroke-width="0.9"/>
<line x1="128.2" y1="609.3" x2="133" y2="609.3" stroke="#231f20" stroke-width="0.9"/>
<rect x="126.22" y="610" width="8.75" height="11.25" fill="#64ad3d"/>
<line x1="126.22" y1="610.3" x2="134.97" y2="610.3" stroke="#231f20" stroke-width="0.6" stroke-opacity="0.5"/>
<line x1="145" y1="596" x2="145" y2="595.5" stroke="#231f20" stroke-width="0.9"/>
<line x1="142.6" y1="595.5" x2="147.4" y2="595.5" stroke="#231f20" stroke-width="0.9"/>
<rect x="140.62" y="596" width="8.75" height="25.25" fill="#4b1d6b"/>
<line x1="140.62" y1="596.3" x2="149.38" y2="596.3" stroke="#231f20" stroke-width="0.6" stroke-opacity="0.5"/>
<line x1="159.4" y1="595" x2="159.4" y2="585.4" stroke="#231f20" stroke-width="0.9"/>
<line x1="157" y1="585.4" x2="161.8" y2="585.4" stroke="#231f20" stroke-width="0.9"/>
<rect x="155.03" y="595" width="8.75" height="26.25" fill="#4b1d6b"/>
<line x1="155.03" y1="595.3" x2="163.78" y2="595.3" stroke="#231f20" stroke-width="0.6" stroke-opacity="0.5"/>
<path d="M73.5,582.5V534.5H158.5V542.2M113.5,534.5V580M132.5,534.5V542M144.5,534.5V542" stroke="#231f20" stroke-width="0.9" fill="none"/>
<path d="M87.5,565.5V546.5H132.5V580" stroke="#231f20" stroke-width="0.9" fill="none"/>
<text x="115.5" y="532.2" font-size="7.8" text-anchor="middle" fill="#231f20">ns</text>
<text x="108" y="546.2" font-size="8.5" text-anchor="middle" fill="#231f20">**</text>
<line x1="61.5" y1="545.45" x2="61.5" y2="621.25" stroke="#231f20" stroke-width="1.1"/>
<line x1="57.9" y1="621.25" x2="61.5" y2="621.25" stroke="#231f20" stroke-width="1.0"/>
<text x="55.3" y="624.65" font-size="8.7" text-anchor="end" fill="#231f20">0</text>
<line x1="57.9" y1="596.9" x2="61.5" y2="596.9" stroke="#231f20" stroke-width="1.0"/>
<text x="55.3" y="600.3" font-size="8.7" text-anchor="end" textLength="14.08" lengthAdjust="spacingAndGlyphs" fill="#231f20">500</text>
<line x1="57.9" y1="572.55" x2="61.5" y2="572.55" stroke="#231f20" stroke-width="1.0"/>
<text x="55.3" y="575.95" font-size="8.7" text-anchor="end" textLength="17.77" lengthAdjust="spacingAndGlyphs" fill="#231f20">1000</text>
<line x1="57.9" y1="548.2" x2="61.5" y2="548.2" stroke="#231f20" stroke-width="1.0"/>
<text x="55.3" y="551.6" font-size="8.7" text-anchor="end" textLength="17.77" lengthAdjust="spacingAndGlyphs" fill="#231f20">1500</text>
<line x1="58.5" y1="621.25" x2="171.25" y2="621.25" stroke="#231f20" stroke-width="1.1"/>
<line x1="73.5" y1="621.25" x2="73.5" y2="624.25" stroke="#231f20" stroke-width="1.0"/>
<line x1="87.8" y1="621.25" x2="87.8" y2="624.25" stroke="#231f20" stroke-width="1.0"/>
<line x1="102" y1="621.25" x2="102" y2="624.25" stroke="#231f20" stroke-width="1.0"/>
<line x1="116.25" y1="621.25" x2="116.25" y2="624.25" stroke="#231f20" stroke-width="1.0"/>
<line x1="130.6" y1="621.25" x2="130.6" y2="624.25" stroke="#231f20" stroke-width="1.0"/>
<line x1="145" y1="621.25" x2="145" y2="624.25" stroke="#231f20" stroke-width="1.0"/>
<line x1="159.4" y1="621.25" x2="159.4" y2="624.25" stroke="#231f20" stroke-width="1.0"/>
<text transform="translate(31.6,583) rotate(-90)" font-size="10" text-anchor="middle" textLength="87.3" lengthAdjust="spacingAndGlyphs" fill="#231f20">ETP (nM thrombin * min)</text>
<text x="61.5" y="635.4" font-size="8.3" text-anchor="end" fill="#231f20">Collagen</text>
<line x1="71.95" y1="632.8" x2="74.55" y2="632.8" stroke="#231f20" stroke-width="0.8"/>
<path d="M85.4,632.5H89.6M87.5,630.4V634.6" stroke="#231f20" stroke-width="0.8"/>
<path d="M99.9,632.5H104.1M102,630.4V634.6" stroke="#231f20" stroke-width="0.8"/>
<path d="M114.15,632.5H118.35M116.25,630.4V634.6" stroke="#231f20" stroke-width="0.8"/>
<path d="M128.65,632.5H132.85M130.75,630.4V634.6" stroke="#231f20" stroke-width="0.8"/>
<path d="M142.9,632.5H147.1M145,630.4V634.6" stroke="#231f20" stroke-width="0.8"/>
<path d="M157.4,632.5H161.6M159.5,630.4V634.6" stroke="#231f20" stroke-width="0.8"/>
<text x="61.5" y="645.4" font-size="8.3" text-anchor="end" fill="#231f20">XVDL</text>
<line x1="71.95" y1="642.8" x2="74.55" y2="642.8" stroke="#231f20" stroke-width="0.8"/>
<line x1="86.2" y1="642.8" x2="88.8" y2="642.8" stroke="#231f20" stroke-width="0.8"/>
<path d="M99.9,642.5H104.1M102,640.4V644.6" stroke="#231f20" stroke-width="0.8"/>
<path d="M114.15,642.5H118.35M116.25,640.4V644.6" stroke="#231f20" stroke-width="0.8"/>
<path d="M128.65,642.5H132.85M130.75,640.4V644.6" stroke="#231f20" stroke-width="0.8"/>
<path d="M142.9,642.5H147.1M145,640.4V644.6" stroke="#231f20" stroke-width="0.8"/>
<path d="M157.4,642.5H161.6M159.5,640.4V644.6" stroke="#231f20" stroke-width="0.8"/>
<text x="61.5" y="655.1" font-size="8.3" text-anchor="end" fill="#231f20">PPX</text>
<line x1="71.95" y1="652.5" x2="74.55" y2="652.5" stroke="#231f20" stroke-width="0.8"/>
<line x1="86.2" y1="652.5" x2="88.8" y2="652.5" stroke="#231f20" stroke-width="0.8"/>
<line x1="100.7" y1="652.5" x2="103.3" y2="652.5" stroke="#231f20" stroke-width="0.8"/>
<path d="M114.15,652.2H118.35M116.25,650.1V654.3" stroke="#231f20" stroke-width="0.8"/>
<line x1="129.45" y1="652.5" x2="132.05" y2="652.5" stroke="#231f20" stroke-width="0.8"/>
<line x1="143.7" y1="652.5" x2="146.3" y2="652.5" stroke="#231f20" stroke-width="0.8"/>
<line x1="158.2" y1="652.5" x2="160.8" y2="652.5" stroke="#231f20" stroke-width="0.8"/>
<text x="61.5" y="665.3" font-size="8.3" text-anchor="end" textLength="33.6" lengthAdjust="spacingAndGlyphs" fill="#231f20">PPX_Δ12</text>
<line x1="71.95" y1="662.7" x2="74.55" y2="662.7" stroke="#231f20" stroke-width="0.8"/>
<line x1="86.2" y1="662.7" x2="88.8" y2="662.7" stroke="#231f20" stroke-width="0.8"/>
<line x1="100.7" y1="662.7" x2="103.3" y2="662.7" stroke="#231f20" stroke-width="0.8"/>
<line x1="114.95" y1="662.7" x2="117.55" y2="662.7" stroke="#231f20" stroke-width="0.8"/>
<path d="M128.65,662.4H132.85M130.75,660.3V664.5" stroke="#231f20" stroke-width="0.8"/>
<line x1="143.7" y1="662.7" x2="146.3" y2="662.7" stroke="#231f20" stroke-width="0.8"/>
<line x1="158.2" y1="662.7" x2="160.8" y2="662.7" stroke="#231f20" stroke-width="0.8"/>
<text x="61.5" y="675.1" font-size="8.3" text-anchor="end" fill="#231f20">3F7</text>
<line x1="71.95" y1="672.5" x2="74.55" y2="672.5" stroke="#231f20" stroke-width="0.8"/>
<line x1="86.2" y1="672.5" x2="88.8" y2="672.5" stroke="#231f20" stroke-width="0.8"/>
<line x1="100.7" y1="672.5" x2="103.3" y2="672.5" stroke="#231f20" stroke-width="0.8"/>
<line x1="114.95" y1="672.5" x2="117.55" y2="672.5" stroke="#231f20" stroke-width="0.8"/>
<line x1="129.45" y1="672.5" x2="132.05" y2="672.5" stroke="#231f20" stroke-width="0.8"/>
<path d="M142.9,672.2H147.1M145,670.1V674.3" stroke="#231f20" stroke-width="0.8"/>
<line x1="158.2" y1="672.5" x2="160.8" y2="672.5" stroke="#231f20" stroke-width="0.8"/>
<text x="61.5" y="684.9" font-size="8.3" text-anchor="end" fill="#231f20">Inf-4</text>
<line x1="71.95" y1="682.3" x2="74.55" y2="682.3" stroke="#231f20" stroke-width="0.8"/>
<line x1="86.2" y1="682.3" x2="88.8" y2="682.3" stroke="#231f20" stroke-width="0.8"/>
<line x1="100.7" y1="682.3" x2="103.3" y2="682.3" stroke="#231f20" stroke-width="0.8"/>
<line x1="114.95" y1="682.3" x2="117.55" y2="682.3" stroke="#231f20" stroke-width="0.8"/>
<line x1="129.45" y1="682.3" x2="132.05" y2="682.3" stroke="#231f20" stroke-width="0.8"/>
<line x1="143.7" y1="682.3" x2="146.3" y2="682.3" stroke="#231f20" stroke-width="0.8"/>
<path d="M157.4,682H161.6M159.5,679.9V684.1" stroke="#231f20" stroke-width="0.8"/>
<text x="241" y="529.3" font-size="11" font-weight="bold" fill="#000">K</text>
<line x1="317.9" y1="614.25" x2="317.9" y2="613" stroke="#231f20" stroke-width="0.9"/>
<line x1="315.5" y1="613" x2="320.3" y2="613" stroke="#231f20" stroke-width="0.9"/>
<rect x="313.52" y="614.25" width="8.75" height="7" fill="#c8c8cc"/>
<line x1="313.52" y1="614.55" x2="322.27" y2="614.55" stroke="#231f20" stroke-width="0.6" stroke-opacity="0.5"/>
<line x1="332.4" y1="599.25" x2="332.4" y2="593.25" stroke="#231f20" stroke-width="0.9"/>
<line x1="330" y1="593.25" x2="334.8" y2="593.25" stroke="#231f20" stroke-width="0.9"/>
<rect x="328.02" y="599.25" width="8.75" height="22" fill="#4b5166"/>
<line x1="328.02" y1="599.55" x2="336.77" y2="599.55" stroke="#231f20" stroke-width="0.6" stroke-opacity="0.5"/>
<line x1="346.6" y1="566.25" x2="346.6" y2="562.5" stroke="#231f20" stroke-width="0.9"/>
<line x1="344.2" y1="562.5" x2="349" y2="562.5" stroke="#231f20" stroke-width="0.9"/>
<rect x="342.23" y="566.25" width="8.75" height="55" fill="#a8062a"/>
<line x1="342.23" y1="566.55" x2="350.98" y2="566.55" stroke="#231f20" stroke-width="0.6" stroke-opacity="0.5"/>
<line x1="361.25" y1="614.5" x2="361.25" y2="612" stroke="#231f20" stroke-width="0.9"/>
<line x1="358.85" y1="612" x2="363.65" y2="612" stroke="#231f20" stroke-width="0.9"/>
<rect x="356.88" y="614.5" width="8.75" height="6.75" fill="#64ad3d"/>
<line x1="356.88" y1="614.8" x2="365.62" y2="614.8" stroke="#231f20" stroke-width="0.6" stroke-opacity="0.5"/>
<line x1="375.6" y1="616.75" x2="375.6" y2="616.3" stroke="#231f20" stroke-width="0.9"/>
<line x1="373.2" y1="616.3" x2="378" y2="616.3" stroke="#231f20" stroke-width="0.9"/>
<rect x="371.23" y="616.75" width="8.75" height="4.5" fill="#64ad3d"/>
<line x1="371.23" y1="617.05" x2="379.98" y2="617.05" stroke="#231f20" stroke-width="0.6" stroke-opacity="0.5"/>
<line x1="389.9" y1="611.25" x2="389.9" y2="610.6" stroke="#231f20" stroke-width="0.9"/>
<line x1="387.5" y1="610.6" x2="392.3" y2="610.6" stroke="#231f20" stroke-width="0.9"/>
<rect x="385.52" y="611.25" width="8.75" height="10" fill="#4b1d6b"/>
<line x1="385.52" y1="611.55" x2="394.27" y2="611.55" stroke="#231f20" stroke-width="0.6" stroke-opacity="0.5"/>
<line x1="404.4" y1="610" x2="404.4" y2="605" stroke="#231f20" stroke-width="0.9"/>
<line x1="402" y1="605" x2="406.8" y2="605" stroke="#231f20" stroke-width="0.9"/>
<rect x="400.02" y="610" width="8.75" height="11.25" fill="#4b1d6b"/>
<line x1="400.02" y1="610.3" x2="408.77" y2="610.3" stroke="#231f20" stroke-width="0.6" stroke-opacity="0.5"/>
<path d="M317.5,587V546.5H404.5V561.3M359.5,546.5V561.3M372.5,546.5V561.3M385.5,546.5V561.3" stroke="#231f20" stroke-width="0.9" fill="none"/>
<path d="M332.5,582.5V552.5H346.5V556.3" stroke="#231f20" stroke-width="0.9" fill="none"/>
<text x="360.5" y="544.6" font-size="7.8" text-anchor="middle" fill="#231f20">ns</text>
<text x="338.9" y="553.4" font-size="8.5" text-anchor="middle" fill="#231f20">**</text>
<line x1="305.4" y1="545.45" x2="305.4" y2="621.25" stroke="#231f20" stroke-width="1.1"/>
<line x1="301.8" y1="621.25" x2="305.4" y2="621.25" stroke="#231f20" stroke-width="1.0"/>
<text x="300.6" y="624.65" font-size="8.7" text-anchor="end" fill="#231f20">0</text>
<line x1="301.8" y1="596.91" x2="305.4" y2="596.91" stroke="#231f20" stroke-width="1.0"/>
<text x="300.6" y="600.31" font-size="8.7" text-anchor="end" textLength="9.39" lengthAdjust="spacingAndGlyphs" fill="#231f20">50</text>
<line x1="301.8" y1="572.58" x2="305.4" y2="572.58" stroke="#231f20" stroke-width="1.0"/>
<text x="300.6" y="575.98" font-size="8.7" text-anchor="end" textLength="13.08" lengthAdjust="spacingAndGlyphs" fill="#231f20">100</text>
<line x1="301.8" y1="548.25" x2="305.4" y2="548.25" stroke="#231f20" stroke-width="1.0"/>
<text x="300.6" y="551.64" font-size="8.7" text-anchor="end" textLength="13.08" lengthAdjust="spacingAndGlyphs" fill="#231f20">150</text>
<line x1="302" y1="621.25" x2="416" y2="621.25" stroke="#231f20" stroke-width="1.1"/>
<line x1="317.9" y1="621.25" x2="317.9" y2="624.25" stroke="#231f20" stroke-width="1.0"/>
<line x1="332.4" y1="621.25" x2="332.4" y2="624.25" stroke="#231f20" stroke-width="1.0"/>
<line x1="346.6" y1="621.25" x2="346.6" y2="624.25" stroke="#231f20" stroke-width="1.0"/>
<line x1="361.25" y1="621.25" x2="361.25" y2="624.25" stroke="#231f20" stroke-width="1.0"/>
<line x1="375.6" y1="621.25" x2="375.6" y2="624.25" stroke="#231f20" stroke-width="1.0"/>
<line x1="389.9" y1="621.25" x2="389.9" y2="624.25" stroke="#231f20" stroke-width="1.0"/>
<line x1="404.4" y1="621.25" x2="404.4" y2="624.25" stroke="#231f20" stroke-width="1.0"/>
<text transform="translate(280.2,583) rotate(-90)" font-size="10" text-anchor="middle" textLength="71.5" lengthAdjust="spacingAndGlyphs" fill="#231f20">Peak thrombin (nM)</text>
<text x="306.5" y="635.4" font-size="8.3" text-anchor="end" fill="#231f20">Collagen</text>
<line x1="316.7" y1="632.8" x2="319.3" y2="632.8" stroke="#231f20" stroke-width="0.8"/>
<path d="M330.4,632.5H334.6M332.5,630.4V634.6" stroke="#231f20" stroke-width="0.8"/>
<path d="M344.65,632.5H348.85M346.75,630.4V634.6" stroke="#231f20" stroke-width="0.8"/>
<path d="M359.15,632.5H363.35M361.25,630.4V634.6" stroke="#231f20" stroke-width="0.8"/>
<path d="M373.5,632.5H377.7M375.6,630.4V634.6" stroke="#231f20" stroke-width="0.8"/>
<path d="M387.9,632.5H392.1M390,630.4V634.6" stroke="#231f20" stroke-width="0.8"/>
<path d="M402.3,632.5H406.5M404.4,630.4V634.6" stroke="#231f20" stroke-width="0.8"/>
<text x="306.5" y="645.4" font-size="8.3" text-anchor="end" fill="#231f20">XVDL</text>
<line x1="316.7" y1="642.8" x2="319.3" y2="642.8" stroke="#231f20" stroke-width="0.8"/>
<line x1="331.2" y1="642.8" x2="333.8" y2="642.8" stroke="#231f20" stroke-width="0.8"/>
<path d="M344.65,642.5H348.85M346.75,640.4V644.6" stroke="#231f20" stroke-width="0.8"/>
<path d="M359.15,642.5H363.35M361.25,640.4V644.6" stroke="#231f20" stroke-width="0.8"/>
<path d="M373.5,642.5H377.7M375.6,640.4V644.6" stroke="#231f20" stroke-width="0.8"/>
<path d="M387.9,642.5H392.1M390,640.4V644.6" stroke="#231f20" stroke-width="0.8"/>
<path d="M402.3,642.5H406.5M404.4,640.4V644.6" stroke="#231f20" stroke-width="0.8"/>
<text x="306.5" y="655.1" font-size="8.3" text-anchor="end" fill="#231f20">PPX</text>
<line x1="316.7" y1="652.5" x2="319.3" y2="652.5" stroke="#231f20" stroke-width="0.8"/>
<line x1="331.2" y1="652.5" x2="333.8" y2="652.5" stroke="#231f20" stroke-width="0.8"/>
<line x1="345.45" y1="652.5" x2="348.05" y2="652.5" stroke="#231f20" stroke-width="0.8"/>
<path d="M359.15,652.2H363.35M361.25,650.1V654.3" stroke="#231f20" stroke-width="0.8"/>
<line x1="374.3" y1="652.5" x2="376.9" y2="652.5" stroke="#231f20" stroke-width="0.8"/>
<line x1="388.7" y1="652.5" x2="391.3" y2="652.5" stroke="#231f20" stroke-width="0.8"/>
<line x1="403.1" y1="652.5" x2="405.7" y2="652.5" stroke="#231f20" stroke-width="0.8"/>
<text x="306.5" y="665.3" font-size="8.3" text-anchor="end" textLength="33.6" lengthAdjust="spacingAndGlyphs" fill="#231f20">PPX_Δ12</text>
<line x1="316.7" y1="662.7" x2="319.3" y2="662.7" stroke="#231f20" stroke-width="0.8"/>
<line x1="331.2" y1="662.7" x2="333.8" y2="662.7" stroke="#231f20" stroke-width="0.8"/>
<line x1="345.45" y1="662.7" x2="348.05" y2="662.7" stroke="#231f20" stroke-width="0.8"/>
<line x1="359.95" y1="662.7" x2="362.55" y2="662.7" stroke="#231f20" stroke-width="0.8"/>
<path d="M373.5,662.4H377.7M375.6,660.3V664.5" stroke="#231f20" stroke-width="0.8"/>
<line x1="388.7" y1="662.7" x2="391.3" y2="662.7" stroke="#231f20" stroke-width="0.8"/>
<line x1="403.1" y1="662.7" x2="405.7" y2="662.7" stroke="#231f20" stroke-width="0.8"/>
<text x="306.5" y="675.1" font-size="8.3" text-anchor="end" fill="#231f20">3F7</text>
<line x1="316.7" y1="672.5" x2="319.3" y2="672.5" stroke="#231f20" stroke-width="0.8"/>
<line x1="331.2" y1="672.5" x2="333.8" y2="672.5" stroke="#231f20" stroke-width="0.8"/>
<line x1="345.45" y1="672.5" x2="348.05" y2="672.5" stroke="#231f20" stroke-width="0.8"/>
<line x1="359.95" y1="672.5" x2="362.55" y2="672.5" stroke="#231f20" stroke-width="0.8"/>
<line x1="374.3" y1="672.5" x2="376.9" y2="672.5" stroke="#231f20" stroke-width="0.8"/>
<path d="M387.9,672.2H392.1M390,670.1V674.3" stroke="#231f20" stroke-width="0.8"/>
<line x1="403.1" y1="672.5" x2="405.7" y2="672.5" stroke="#231f20" stroke-width="0.8"/>
<text x="306.5" y="684.9" font-size="8.3" text-anchor="end" fill="#231f20">Inf-4</text>
<line x1="316.7" y1="682.3" x2="319.3" y2="682.3" stroke="#231f20" stroke-width="0.8"/>
<line x1="331.2" y1="682.3" x2="333.8" y2="682.3" stroke="#231f20" stroke-width="0.8"/>
<line x1="345.45" y1="682.3" x2="348.05" y2="682.3" stroke="#231f20" stroke-width="0.8"/>
<line x1="359.95" y1="682.3" x2="362.55" y2="682.3" stroke="#231f20" stroke-width="0.8"/>
<line x1="374.3" y1="682.3" x2="376.9" y2="682.3" stroke="#231f20" stroke-width="0.8"/>
<line x1="388.7" y1="682.3" x2="391.3" y2="682.3" stroke="#231f20" stroke-width="0.8"/>
<path d="M402.3,682H406.5M404.4,679.9V684.1" stroke="#231f20" stroke-width="0.8"/>
<rect x="0.5" y="0.5" width="519" height="693" fill="none" stroke="#000" stroke-width="1"/>
</svg>
</body></html>
